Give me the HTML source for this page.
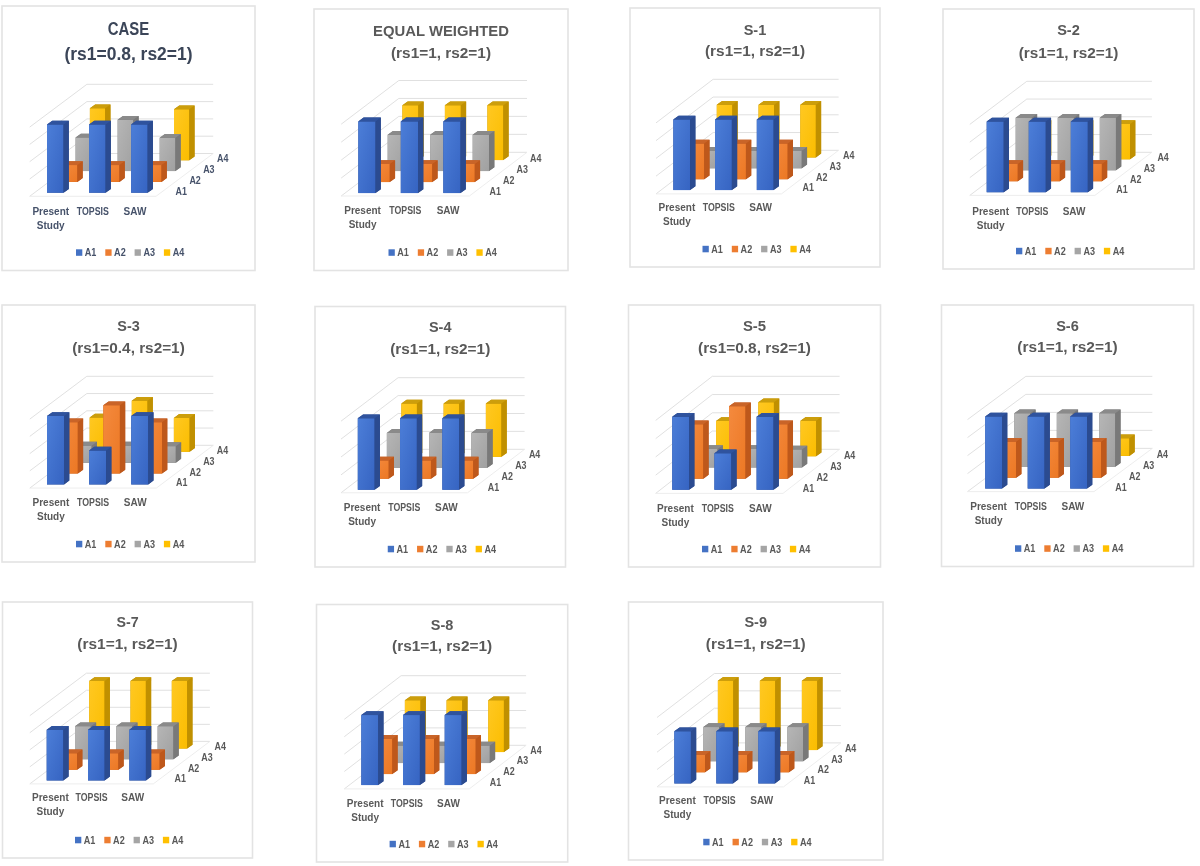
<!DOCTYPE html>
<html><head><meta charset="utf-8"><title>Charts</title>
<style>html,body{margin:0;padding:0;background:#fff;} svg{display:block;font-family:"Liberation Sans",sans-serif;filter:blur(0.5px);}</style>
</head><body>
<svg width="1200" height="866" viewBox="0 0 1200 866">
<defs>
<linearGradient id="g0" x1="0" y1="0" x2="1" y2="1"><stop offset="0" stop-color="#4c7ed8"/><stop offset="1" stop-color="#3664c2"/></linearGradient>
<linearGradient id="g1" x1="0" y1="0" x2="1" y2="1"><stop offset="0" stop-color="#f48a3e"/><stop offset="1" stop-color="#ec7824"/></linearGradient>
<linearGradient id="g2" x1="0" y1="0" x2="1" y2="1"><stop offset="0" stop-color="#b6b6b6"/><stop offset="1" stop-color="#a0a0a0"/></linearGradient>
<linearGradient id="g3" x1="0" y1="0" x2="1" y2="1"><stop offset="0" stop-color="#ffc822"/><stop offset="1" stop-color="#fbbd00"/></linearGradient>
</defs>
<rect width="1200" height="866" fill="#fff"/>
<rect x="2" y="6" width="253" height="264.5" fill="#fff" stroke="#e3e3e3" stroke-width="1.6"/>
<text x="128.5" y="35.3" font-size="17.5" font-weight="bold" fill="#3b4558" text-anchor="middle" textLength="41.5" lengthAdjust="spacingAndGlyphs">CASE</text>
<text x="128.5" y="59.5" font-size="17.5" font-weight="bold" fill="#3b4558" text-anchor="middle" textLength="128" lengthAdjust="spacingAndGlyphs">(rs1=0.8, rs2=1)</text>
<polyline points="29.70,196.30 86.90,153.50 213.20,153.50" fill="none" stroke="#dcdcdc" stroke-width="0.9"/>
<polyline points="29.70,179.00 86.90,136.20 213.20,136.20" fill="none" stroke="#dcdcdc" stroke-width="0.9"/>
<polyline points="29.70,161.70 86.90,118.90 213.20,118.90" fill="none" stroke="#dcdcdc" stroke-width="0.9"/>
<polyline points="29.70,144.40 86.90,101.60 213.20,101.60" fill="none" stroke="#dcdcdc" stroke-width="0.9"/>
<polyline points="29.70,127.10 86.90,84.30 213.20,84.30" fill="none" stroke="#dcdcdc" stroke-width="0.9"/>
<polyline points="29.70,196.30 156.00,196.30 213.20,153.50" fill="none" stroke="#ebebeb" stroke-width="0.9"/>
<polygon points="89.90,108.30 95.20,104.50 110.46,104.50 110.46,156.50 105.16,160.30 89.90,160.30" fill="#c09000"/>
<rect x="89.90" y="108.30" width="15.26" height="52.00" fill="url(#g3)"/>
<polygon points="105.16,108.30 110.46,104.50 110.46,156.50 105.16,160.30" fill="#c09000"/>
<polygon points="89.90,108.30 95.20,104.50 110.46,104.50 105.16,108.30" fill="#cc9e0c"/>
<polygon points="174.00,109.30 179.30,105.50 194.56,105.50 194.56,156.50 189.26,160.30 174.00,160.30" fill="#c09000"/>
<rect x="174.00" y="109.30" width="15.26" height="51.00" fill="url(#g3)"/>
<polygon points="189.26,109.30 194.56,105.50 194.56,156.50 189.26,160.30" fill="#c09000"/>
<polygon points="174.00,109.30 179.30,105.50 194.56,105.50 189.26,109.30" fill="#cc9e0c"/>
<polygon points="75.60,137.50 80.90,133.70 96.57,133.70 96.57,167.30 91.27,171.10 75.60,171.10" fill="#797979"/>
<rect x="75.60" y="137.50" width="15.67" height="33.60" fill="url(#g2)"/>
<polygon points="91.27,137.50 96.57,133.70 96.57,167.30 91.27,171.10" fill="#797979"/>
<polygon points="75.60,137.50 80.90,133.70 96.57,133.70 91.27,137.50" fill="#8a8a8a"/>
<polygon points="117.65,119.80 122.95,116.00 138.63,116.00 138.63,167.30 133.33,171.10 117.65,171.10" fill="#797979"/>
<rect x="117.65" y="119.80" width="15.67" height="51.30" fill="url(#g2)"/>
<polygon points="133.33,119.80 138.63,116.00 138.63,167.30 133.33,171.10" fill="#797979"/>
<polygon points="117.65,119.80 122.95,116.00 138.63,116.00 133.33,119.80" fill="#8a8a8a"/>
<polygon points="159.70,137.80 165.00,134.00 180.68,134.00 180.68,167.30 175.38,171.10 159.70,171.10" fill="#797979"/>
<rect x="159.70" y="137.80" width="15.67" height="33.30" fill="url(#g2)"/>
<polygon points="175.38,137.80 180.68,134.00 180.68,167.30 175.38,171.10" fill="#797979"/>
<polygon points="159.70,137.80 165.00,134.00 180.68,134.00 175.38,137.80" fill="#8a8a8a"/>
<polygon points="61.30,165.10 66.60,161.30 82.69,161.30 82.69,178.10 77.39,181.90 61.30,181.90" fill="#be581b"/>
<rect x="61.30" y="165.10" width="16.09" height="16.80" fill="url(#g1)"/>
<polygon points="77.39,165.10 82.69,161.30 82.69,178.10 77.39,181.90" fill="#be581b"/>
<polygon points="61.30,165.10 66.60,161.30 82.69,161.30 77.39,165.10" fill="#c96428"/>
<polygon points="103.35,165.10 108.65,161.30 124.74,161.30 124.74,178.10 119.44,181.90 103.35,181.90" fill="#be581b"/>
<rect x="103.35" y="165.10" width="16.09" height="16.80" fill="url(#g1)"/>
<polygon points="119.44,165.10 124.74,161.30 124.74,178.10 119.44,181.90" fill="#be581b"/>
<polygon points="103.35,165.10 108.65,161.30 124.74,161.30 119.44,165.10" fill="#c96428"/>
<polygon points="145.40,165.10 150.70,161.30 166.79,161.30 166.79,178.10 161.49,181.90 145.40,181.90" fill="#be581b"/>
<rect x="145.40" y="165.10" width="16.09" height="16.80" fill="url(#g1)"/>
<polygon points="161.49,165.10 166.79,161.30 166.79,178.10 161.49,181.90" fill="#be581b"/>
<polygon points="145.40,165.10 150.70,161.30 166.79,161.30 161.49,165.10" fill="#c96428"/>
<polygon points="47.00,124.50 52.30,120.70 68.80,120.70 68.80,188.90 63.50,192.70 47.00,192.70" fill="#2b4b90"/>
<rect x="47.00" y="124.50" width="16.50" height="68.20" fill="url(#g0)"/>
<polygon points="63.50,124.50 68.80,120.70 68.80,188.90 63.50,192.70" fill="#2b4b90"/>
<polygon points="47.00,124.50 52.30,120.70 68.80,120.70 63.50,124.50" fill="#2f539e"/>
<polygon points="89.05,124.50 94.35,120.70 110.85,120.70 110.85,188.90 105.55,192.70 89.05,192.70" fill="#2b4b90"/>
<rect x="89.05" y="124.50" width="16.50" height="68.20" fill="url(#g0)"/>
<polygon points="105.55,124.50 110.85,120.70 110.85,188.90 105.55,192.70" fill="#2b4b90"/>
<polygon points="89.05,124.50 94.35,120.70 110.85,120.70 105.55,124.50" fill="#2f539e"/>
<polygon points="131.10,124.50 136.40,120.70 152.90,120.70 152.90,188.90 147.60,192.70 131.10,192.70" fill="#2b4b90"/>
<rect x="131.10" y="124.50" width="16.50" height="68.20" fill="url(#g0)"/>
<polygon points="147.60,124.50 152.90,120.70 152.90,188.90 147.60,192.70" fill="#2b4b90"/>
<polygon points="131.10,124.50 136.40,120.70 152.90,120.70 147.60,124.50" fill="#2f539e"/>
<text x="50.75" y="214.50" font-size="10" font-weight="bold" fill="#46526a" text-anchor="middle">Present</text>
<text x="50.75" y="228.50" font-size="10" font-weight="bold" fill="#46526a" text-anchor="middle">Study</text>
<text x="92.85" y="214.50" font-size="10" font-weight="bold" fill="#46526a" text-anchor="middle" textLength="32" lengthAdjust="spacingAndGlyphs">TOPSIS</text>
<text x="134.95" y="214.50" font-size="10" font-weight="bold" fill="#46526a" text-anchor="middle">SAW</text>
<text x="175.60" y="195.40" font-size="10.3" font-weight="bold" fill="#46526a" textLength="11.4" lengthAdjust="spacingAndGlyphs">A1</text>
<text x="189.40" y="184.20" font-size="10.3" font-weight="bold" fill="#46526a" textLength="11.4" lengthAdjust="spacingAndGlyphs">A2</text>
<text x="203.20" y="173.00" font-size="10.3" font-weight="bold" fill="#46526a" textLength="11.4" lengthAdjust="spacingAndGlyphs">A3</text>
<text x="217.00" y="161.80" font-size="10.3" font-weight="bold" fill="#46526a" textLength="11.4" lengthAdjust="spacingAndGlyphs">A4</text>
<rect x="76.00" y="249.30" width="6.3" height="6.5" fill="#4472c4"/>
<text x="84.80" y="256.10" font-size="10.3" font-weight="bold" fill="#46526a" textLength="11.6" lengthAdjust="spacingAndGlyphs">A1</text>
<rect x="105.30" y="249.30" width="6.3" height="6.5" fill="#ed7d31"/>
<text x="114.10" y="256.10" font-size="10.3" font-weight="bold" fill="#46526a" textLength="11.6" lengthAdjust="spacingAndGlyphs">A2</text>
<rect x="134.60" y="249.30" width="6.3" height="6.5" fill="#a5a5a5"/>
<text x="143.40" y="256.10" font-size="10.3" font-weight="bold" fill="#46526a" textLength="11.6" lengthAdjust="spacingAndGlyphs">A3</text>
<rect x="163.90" y="249.30" width="6.3" height="6.5" fill="#ffc000"/>
<text x="172.70" y="256.10" font-size="10.3" font-weight="bold" fill="#46526a" textLength="11.6" lengthAdjust="spacingAndGlyphs">A4</text>
<rect x="314" y="9" width="254" height="261.5" fill="#fff" stroke="#e3e3e3" stroke-width="1.6"/>
<text x="441.0" y="35.8" font-size="15.5" font-weight="bold" fill="#595959" text-anchor="middle" textLength="135.8" lengthAdjust="spacingAndGlyphs">EQUAL WEIGHTED</text>
<text x="441.0" y="58.3" font-size="15.5" font-weight="bold" fill="#595959" text-anchor="middle" textLength="100" lengthAdjust="spacingAndGlyphs">(rs1=1, rs2=1)</text>
<polyline points="341.20,196.00 398.80,152.30 527.00,152.30" fill="none" stroke="#dcdcdc" stroke-width="0.9"/>
<polyline points="341.20,178.05 398.80,134.35 527.00,134.35" fill="none" stroke="#dcdcdc" stroke-width="0.9"/>
<polyline points="341.20,160.10 398.80,116.40 527.00,116.40" fill="none" stroke="#dcdcdc" stroke-width="0.9"/>
<polyline points="341.20,142.15 398.80,98.45 527.00,98.45" fill="none" stroke="#dcdcdc" stroke-width="0.9"/>
<polyline points="341.20,124.20 398.80,80.50 527.00,80.50" fill="none" stroke="#dcdcdc" stroke-width="0.9"/>
<polyline points="341.20,196.00 469.40,196.00 527.00,152.30" fill="none" stroke="#ebebeb" stroke-width="0.9"/>
<polygon points="402.40,105.30 407.70,101.50 423.61,101.50 423.61,156.30 418.31,160.10 402.40,160.10" fill="#c09000"/>
<rect x="402.40" y="105.30" width="15.91" height="54.80" fill="url(#g3)"/>
<polygon points="418.31,105.30 423.61,101.50 423.61,156.30 418.31,160.10" fill="#c09000"/>
<polygon points="402.40,105.30 407.70,101.50 423.61,101.50 418.31,105.30" fill="#cc9e0c"/>
<polygon points="444.90,105.30 450.20,101.50 466.11,101.50 466.11,156.30 460.81,160.10 444.90,160.10" fill="#c09000"/>
<rect x="444.90" y="105.30" width="15.91" height="54.80" fill="url(#g3)"/>
<polygon points="460.81,105.30 466.11,101.50 466.11,156.30 460.81,160.10" fill="#c09000"/>
<polygon points="444.90,105.30 450.20,101.50 466.11,101.50 460.81,105.30" fill="#cc9e0c"/>
<polygon points="487.40,105.30 492.70,101.50 508.61,101.50 508.61,156.30 503.31,160.10 487.40,160.10" fill="#c09000"/>
<rect x="487.40" y="105.30" width="15.91" height="54.80" fill="url(#g3)"/>
<polygon points="503.31,105.30 508.61,101.50 508.61,156.30 503.31,160.10" fill="#c09000"/>
<polygon points="487.40,105.30 492.70,101.50 508.61,101.50 503.31,105.30" fill="#cc9e0c"/>
<polygon points="387.70,134.80 393.00,131.00 409.34,131.00 409.34,167.30 404.04,171.10 387.70,171.10" fill="#797979"/>
<rect x="387.70" y="134.80" width="16.34" height="36.30" fill="url(#g2)"/>
<polygon points="404.04,134.80 409.34,131.00 409.34,167.30 404.04,171.10" fill="#797979"/>
<polygon points="387.70,134.80 393.00,131.00 409.34,131.00 404.04,134.80" fill="#8a8a8a"/>
<polygon points="430.20,134.80 435.50,131.00 451.84,131.00 451.84,167.30 446.54,171.10 430.20,171.10" fill="#797979"/>
<rect x="430.20" y="134.80" width="16.34" height="36.30" fill="url(#g2)"/>
<polygon points="446.54,134.80 451.84,131.00 451.84,167.30 446.54,171.10" fill="#797979"/>
<polygon points="430.20,134.80 435.50,131.00 451.84,131.00 446.54,134.80" fill="#8a8a8a"/>
<polygon points="472.70,134.80 478.00,131.00 494.34,131.00 494.34,167.30 489.04,171.10 472.70,171.10" fill="#797979"/>
<rect x="472.70" y="134.80" width="16.34" height="36.30" fill="url(#g2)"/>
<polygon points="489.04,134.80 494.34,131.00 494.34,167.30 489.04,171.10" fill="#797979"/>
<polygon points="472.70,134.80 478.00,131.00 494.34,131.00 489.04,134.80" fill="#8a8a8a"/>
<polygon points="373.00,164.00 378.30,160.20 395.07,160.20 395.07,178.30 389.77,182.10 373.00,182.10" fill="#be581b"/>
<rect x="373.00" y="164.00" width="16.77" height="18.10" fill="url(#g1)"/>
<polygon points="389.77,164.00 395.07,160.20 395.07,178.30 389.77,182.10" fill="#be581b"/>
<polygon points="373.00,164.00 378.30,160.20 395.07,160.20 389.77,164.00" fill="#c96428"/>
<polygon points="415.50,164.00 420.80,160.20 437.57,160.20 437.57,178.30 432.27,182.10 415.50,182.10" fill="#be581b"/>
<rect x="415.50" y="164.00" width="16.77" height="18.10" fill="url(#g1)"/>
<polygon points="432.27,164.00 437.57,160.20 437.57,178.30 432.27,182.10" fill="#be581b"/>
<polygon points="415.50,164.00 420.80,160.20 437.57,160.20 432.27,164.00" fill="#c96428"/>
<polygon points="458.00,164.00 463.30,160.20 480.07,160.20 480.07,178.30 474.77,182.10 458.00,182.10" fill="#be581b"/>
<rect x="458.00" y="164.00" width="16.77" height="18.10" fill="url(#g1)"/>
<polygon points="474.77,164.00 480.07,160.20 480.07,178.30 474.77,182.10" fill="#be581b"/>
<polygon points="458.00,164.00 463.30,160.20 480.07,160.20 474.77,164.00" fill="#c96428"/>
<polygon points="358.30,121.40 363.60,117.60 380.80,117.60 380.80,189.30 375.50,193.10 358.30,193.10" fill="#2b4b90"/>
<rect x="358.30" y="121.40" width="17.20" height="71.70" fill="url(#g0)"/>
<polygon points="375.50,121.40 380.80,117.60 380.80,189.30 375.50,193.10" fill="#2b4b90"/>
<polygon points="358.30,121.40 363.60,117.60 380.80,117.60 375.50,121.40" fill="#2f539e"/>
<polygon points="400.80,121.40 406.10,117.60 423.30,117.60 423.30,189.30 418.00,193.10 400.80,193.10" fill="#2b4b90"/>
<rect x="400.80" y="121.40" width="17.20" height="71.70" fill="url(#g0)"/>
<polygon points="418.00,121.40 423.30,117.60 423.30,189.30 418.00,193.10" fill="#2b4b90"/>
<polygon points="400.80,121.40 406.10,117.60 423.30,117.60 418.00,121.40" fill="#2f539e"/>
<polygon points="443.30,121.40 448.60,117.60 465.80,117.60 465.80,189.30 460.50,193.10 443.30,193.10" fill="#2b4b90"/>
<rect x="443.30" y="121.40" width="17.20" height="71.70" fill="url(#g0)"/>
<polygon points="460.50,121.40 465.80,117.60 465.80,189.30 460.50,193.10" fill="#2b4b90"/>
<polygon points="443.30,121.40 448.60,117.60 465.80,117.60 460.50,121.40" fill="#2f539e"/>
<text x="362.57" y="214.30" font-size="10" font-weight="bold" fill="#595959" text-anchor="middle">Present</text>
<text x="362.57" y="228.30" font-size="10" font-weight="bold" fill="#595959" text-anchor="middle">Study</text>
<text x="405.30" y="214.30" font-size="10" font-weight="bold" fill="#595959" text-anchor="middle" textLength="32" lengthAdjust="spacingAndGlyphs">TOPSIS</text>
<text x="448.03" y="214.30" font-size="10" font-weight="bold" fill="#595959" text-anchor="middle">SAW</text>
<text x="489.50" y="195.40" font-size="10.3" font-weight="bold" fill="#595959" textLength="11.4" lengthAdjust="spacingAndGlyphs">A1</text>
<text x="503.00" y="184.20" font-size="10.3" font-weight="bold" fill="#595959" textLength="11.4" lengthAdjust="spacingAndGlyphs">A2</text>
<text x="516.50" y="173.00" font-size="10.3" font-weight="bold" fill="#595959" textLength="11.4" lengthAdjust="spacingAndGlyphs">A3</text>
<text x="530.00" y="161.80" font-size="10.3" font-weight="bold" fill="#595959" textLength="11.4" lengthAdjust="spacingAndGlyphs">A4</text>
<rect x="388.50" y="249.30" width="6.3" height="6.5" fill="#4472c4"/>
<text x="397.30" y="256.10" font-size="10.3" font-weight="bold" fill="#595959" textLength="11.6" lengthAdjust="spacingAndGlyphs">A1</text>
<rect x="417.80" y="249.30" width="6.3" height="6.5" fill="#ed7d31"/>
<text x="426.60" y="256.10" font-size="10.3" font-weight="bold" fill="#595959" textLength="11.6" lengthAdjust="spacingAndGlyphs">A2</text>
<rect x="447.10" y="249.30" width="6.3" height="6.5" fill="#a5a5a5"/>
<text x="455.90" y="256.10" font-size="10.3" font-weight="bold" fill="#595959" textLength="11.6" lengthAdjust="spacingAndGlyphs">A3</text>
<rect x="476.40" y="249.30" width="6.3" height="6.5" fill="#ffc000"/>
<text x="485.20" y="256.10" font-size="10.3" font-weight="bold" fill="#595959" textLength="11.6" lengthAdjust="spacingAndGlyphs">A4</text>
<rect x="630" y="8" width="250" height="259" fill="#fff" stroke="#e3e3e3" stroke-width="1.6"/>
<text x="755.0" y="34.5" font-size="15" font-weight="bold" fill="#595959" text-anchor="middle" textLength="22.6" lengthAdjust="spacingAndGlyphs">S-1</text>
<text x="755.0" y="56.2" font-size="15" font-weight="bold" fill="#595959" text-anchor="middle" textLength="100" lengthAdjust="spacingAndGlyphs">(rs1=1, rs2=1)</text>
<polyline points="656.00,193.90 713.10,150.30 838.60,150.30" fill="none" stroke="#dcdcdc" stroke-width="0.9"/>
<polyline points="656.00,176.15 713.10,132.55 838.60,132.55" fill="none" stroke="#dcdcdc" stroke-width="0.9"/>
<polyline points="656.00,158.40 713.10,114.80 838.60,114.80" fill="none" stroke="#dcdcdc" stroke-width="0.9"/>
<polyline points="656.00,140.65 713.10,97.05 838.60,97.05" fill="none" stroke="#dcdcdc" stroke-width="0.9"/>
<polyline points="656.00,122.90 713.10,79.30 838.60,79.30" fill="none" stroke="#dcdcdc" stroke-width="0.9"/>
<polyline points="656.00,193.90 781.50,193.90 838.60,150.30" fill="none" stroke="#ebebeb" stroke-width="0.9"/>
<polygon points="716.80,104.80 722.10,101.00 737.64,101.00 737.64,153.60 732.34,157.40 716.80,157.40" fill="#c09000"/>
<rect x="716.80" y="104.80" width="15.54" height="52.60" fill="url(#g3)"/>
<polygon points="732.34,104.80 737.64,101.00 737.64,153.60 732.34,157.40" fill="#c09000"/>
<polygon points="716.80,104.80 722.10,101.00 737.64,101.00 732.34,104.80" fill="#cc9e0c"/>
<polygon points="758.55,104.80 763.85,101.00 779.39,101.00 779.39,153.60 774.09,157.40 758.55,157.40" fill="#c09000"/>
<rect x="758.55" y="104.80" width="15.54" height="52.60" fill="url(#g3)"/>
<polygon points="774.09,104.80 779.39,101.00 779.39,153.60 774.09,157.40" fill="#c09000"/>
<polygon points="758.55,104.80 763.85,101.00 779.39,101.00 774.09,104.80" fill="#cc9e0c"/>
<polygon points="800.30,104.80 805.60,101.00 821.14,101.00 821.14,153.60 815.84,157.40 800.30,157.40" fill="#c09000"/>
<rect x="800.30" y="104.80" width="15.54" height="52.60" fill="url(#g3)"/>
<polygon points="815.84,104.80 821.14,101.00 821.14,153.60 815.84,157.40" fill="#c09000"/>
<polygon points="800.30,104.80 805.60,101.00 821.14,101.00 815.84,104.80" fill="#cc9e0c"/>
<polygon points="702.30,150.70 707.60,146.90 723.56,146.90 723.56,164.50 718.26,168.30 702.30,168.30" fill="#797979"/>
<rect x="702.30" y="150.70" width="15.96" height="17.60" fill="url(#g2)"/>
<polygon points="718.26,150.70 723.56,146.90 723.56,164.50 718.26,168.30" fill="#797979"/>
<polygon points="702.30,150.70 707.60,146.90 723.56,146.90 718.26,150.70" fill="#8a8a8a"/>
<polygon points="744.05,150.70 749.35,146.90 765.31,146.90 765.31,164.50 760.01,168.30 744.05,168.30" fill="#797979"/>
<rect x="744.05" y="150.70" width="15.96" height="17.60" fill="url(#g2)"/>
<polygon points="760.01,150.70 765.31,146.90 765.31,164.50 760.01,168.30" fill="#797979"/>
<polygon points="744.05,150.70 749.35,146.90 765.31,146.90 760.01,150.70" fill="#8a8a8a"/>
<polygon points="785.80,150.70 791.10,146.90 807.06,146.90 807.06,164.50 801.76,168.30 785.80,168.30" fill="#797979"/>
<rect x="785.80" y="150.70" width="15.96" height="17.60" fill="url(#g2)"/>
<polygon points="801.76,150.70 807.06,146.90 807.06,164.50 801.76,168.30" fill="#797979"/>
<polygon points="785.80,150.70 791.10,146.90 807.06,146.90 801.76,150.70" fill="#8a8a8a"/>
<polygon points="687.80,143.60 693.10,139.80 709.48,139.80 709.48,175.40 704.18,179.20 687.80,179.20" fill="#be581b"/>
<rect x="687.80" y="143.60" width="16.38" height="35.60" fill="url(#g1)"/>
<polygon points="704.18,143.60 709.48,139.80 709.48,175.40 704.18,179.20" fill="#be581b"/>
<polygon points="687.80,143.60 693.10,139.80 709.48,139.80 704.18,143.60" fill="#c96428"/>
<polygon points="729.55,143.60 734.85,139.80 751.23,139.80 751.23,175.40 745.93,179.20 729.55,179.20" fill="#be581b"/>
<rect x="729.55" y="143.60" width="16.38" height="35.60" fill="url(#g1)"/>
<polygon points="745.93,143.60 751.23,139.80 751.23,175.40 745.93,179.20" fill="#be581b"/>
<polygon points="729.55,143.60 734.85,139.80 751.23,139.80 745.93,143.60" fill="#c96428"/>
<polygon points="771.30,143.60 776.60,139.80 792.98,139.80 792.98,175.40 787.68,179.20 771.30,179.20" fill="#be581b"/>
<rect x="771.30" y="143.60" width="16.38" height="35.60" fill="url(#g1)"/>
<polygon points="787.68,143.60 792.98,139.80 792.98,175.40 787.68,179.20" fill="#be581b"/>
<polygon points="771.30,143.60 776.60,139.80 792.98,139.80 787.68,143.60" fill="#c96428"/>
<polygon points="673.30,119.50 678.60,115.70 695.40,115.70 695.40,186.30 690.10,190.10 673.30,190.10" fill="#2b4b90"/>
<rect x="673.30" y="119.50" width="16.80" height="70.60" fill="url(#g0)"/>
<polygon points="690.10,119.50 695.40,115.70 695.40,186.30 690.10,190.10" fill="#2b4b90"/>
<polygon points="673.30,119.50 678.60,115.70 695.40,115.70 690.10,119.50" fill="#2f539e"/>
<polygon points="715.05,119.50 720.35,115.70 737.15,115.70 737.15,186.30 731.85,190.10 715.05,190.10" fill="#2b4b90"/>
<rect x="715.05" y="119.50" width="16.80" height="70.60" fill="url(#g0)"/>
<polygon points="731.85,119.50 737.15,115.70 737.15,186.30 731.85,190.10" fill="#2b4b90"/>
<polygon points="715.05,119.50 720.35,115.70 737.15,115.70 731.85,119.50" fill="#2f539e"/>
<polygon points="756.80,119.50 762.10,115.70 778.90,115.70 778.90,186.30 773.60,190.10 756.80,190.10" fill="#2b4b90"/>
<rect x="756.80" y="119.50" width="16.80" height="70.60" fill="url(#g0)"/>
<polygon points="773.60,119.50 778.90,115.70 778.90,186.30 773.60,190.10" fill="#2b4b90"/>
<polygon points="756.80,119.50 762.10,115.70 778.90,115.70 773.60,119.50" fill="#2f539e"/>
<text x="676.92" y="210.50" font-size="10" font-weight="bold" fill="#595959" text-anchor="middle">Present</text>
<text x="676.92" y="224.50" font-size="10" font-weight="bold" fill="#595959" text-anchor="middle">Study</text>
<text x="718.75" y="210.50" font-size="10" font-weight="bold" fill="#595959" text-anchor="middle" textLength="32" lengthAdjust="spacingAndGlyphs">TOPSIS</text>
<text x="760.58" y="210.50" font-size="10" font-weight="bold" fill="#595959" text-anchor="middle">SAW</text>
<text x="802.50" y="191.30" font-size="10.3" font-weight="bold" fill="#595959" textLength="11.4" lengthAdjust="spacingAndGlyphs">A1</text>
<text x="816.00" y="180.60" font-size="10.3" font-weight="bold" fill="#595959" textLength="11.4" lengthAdjust="spacingAndGlyphs">A2</text>
<text x="829.50" y="169.90" font-size="10.3" font-weight="bold" fill="#595959" textLength="11.4" lengthAdjust="spacingAndGlyphs">A3</text>
<text x="843.00" y="159.20" font-size="10.3" font-weight="bold" fill="#595959" textLength="11.4" lengthAdjust="spacingAndGlyphs">A4</text>
<rect x="702.50" y="245.80" width="6.3" height="6.5" fill="#4472c4"/>
<text x="711.30" y="252.60" font-size="10.3" font-weight="bold" fill="#595959" textLength="11.6" lengthAdjust="spacingAndGlyphs">A1</text>
<rect x="731.80" y="245.80" width="6.3" height="6.5" fill="#ed7d31"/>
<text x="740.60" y="252.60" font-size="10.3" font-weight="bold" fill="#595959" textLength="11.6" lengthAdjust="spacingAndGlyphs">A2</text>
<rect x="761.10" y="245.80" width="6.3" height="6.5" fill="#a5a5a5"/>
<text x="769.90" y="252.60" font-size="10.3" font-weight="bold" fill="#595959" textLength="11.6" lengthAdjust="spacingAndGlyphs">A3</text>
<rect x="790.40" y="245.80" width="6.3" height="6.5" fill="#ffc000"/>
<text x="799.20" y="252.60" font-size="10.3" font-weight="bold" fill="#595959" textLength="11.6" lengthAdjust="spacingAndGlyphs">A4</text>
<rect x="943" y="9" width="251" height="260" fill="#fff" stroke="#e3e3e3" stroke-width="1.6"/>
<text x="1068.5" y="35.3" font-size="15" font-weight="bold" fill="#595959" text-anchor="middle" textLength="22.7" lengthAdjust="spacingAndGlyphs">S-2</text>
<text x="1068.5" y="57.5" font-size="15" font-weight="bold" fill="#595959" text-anchor="middle" textLength="99.6" lengthAdjust="spacingAndGlyphs">(rs1=1, rs2=1)</text>
<polyline points="969.80,195.40 1026.80,152.30 1151.90,152.30" fill="none" stroke="#dcdcdc" stroke-width="0.9"/>
<polyline points="969.80,177.65 1026.80,134.55 1151.90,134.55" fill="none" stroke="#dcdcdc" stroke-width="0.9"/>
<polyline points="969.80,159.90 1026.80,116.80 1151.90,116.80" fill="none" stroke="#dcdcdc" stroke-width="0.9"/>
<polyline points="969.80,142.15 1026.80,99.05 1151.90,99.05" fill="none" stroke="#dcdcdc" stroke-width="0.9"/>
<polyline points="969.80,124.40 1026.80,81.30 1151.90,81.30" fill="none" stroke="#dcdcdc" stroke-width="0.9"/>
<polyline points="969.80,195.40 1094.90,195.40 1151.90,152.30" fill="none" stroke="#ebebeb" stroke-width="0.9"/>
<polygon points="1030.20,123.95 1035.50,120.15 1051.22,120.15 1051.22,155.55 1045.92,159.35 1030.20,159.35" fill="#c09000"/>
<rect x="1030.20" y="123.95" width="15.73" height="35.40" fill="url(#g3)"/>
<polygon points="1045.92,123.95 1051.22,120.15 1051.22,155.55 1045.92,159.35" fill="#c09000"/>
<polygon points="1030.20,123.95 1035.50,120.15 1051.22,120.15 1045.92,123.95" fill="#cc9e0c"/>
<polygon points="1072.25,123.95 1077.55,120.15 1093.27,120.15 1093.27,155.55 1087.97,159.35 1072.25,159.35" fill="#c09000"/>
<rect x="1072.25" y="123.95" width="15.73" height="35.40" fill="url(#g3)"/>
<polygon points="1087.97,123.95 1093.27,120.15 1093.27,155.55 1087.97,159.35" fill="#c09000"/>
<polygon points="1072.25,123.95 1077.55,120.15 1093.27,120.15 1087.97,123.95" fill="#cc9e0c"/>
<polygon points="1114.30,123.95 1119.60,120.15 1135.32,120.15 1135.32,155.55 1130.02,159.35 1114.30,159.35" fill="#c09000"/>
<rect x="1114.30" y="123.95" width="15.73" height="35.40" fill="url(#g3)"/>
<polygon points="1130.02,123.95 1135.32,120.15 1135.32,155.55 1130.02,159.35" fill="#c09000"/>
<polygon points="1114.30,123.95 1119.60,120.15 1135.32,120.15 1130.02,123.95" fill="#cc9e0c"/>
<polygon points="1015.70,117.70 1021.00,113.90 1037.15,113.90 1037.15,166.50 1031.85,170.30 1015.70,170.30" fill="#797979"/>
<rect x="1015.70" y="117.70" width="16.15" height="52.60" fill="url(#g2)"/>
<polygon points="1031.85,117.70 1037.15,113.90 1037.15,166.50 1031.85,170.30" fill="#797979"/>
<polygon points="1015.70,117.70 1021.00,113.90 1037.15,113.90 1031.85,117.70" fill="#8a8a8a"/>
<polygon points="1057.75,117.70 1063.05,113.90 1079.20,113.90 1079.20,166.50 1073.90,170.30 1057.75,170.30" fill="#797979"/>
<rect x="1057.75" y="117.70" width="16.15" height="52.60" fill="url(#g2)"/>
<polygon points="1073.90,117.70 1079.20,113.90 1079.20,166.50 1073.90,170.30" fill="#797979"/>
<polygon points="1057.75,117.70 1063.05,113.90 1079.20,113.90 1073.90,117.70" fill="#8a8a8a"/>
<polygon points="1099.80,117.70 1105.10,113.90 1121.25,113.90 1121.25,166.50 1115.95,170.30 1099.80,170.30" fill="#797979"/>
<rect x="1099.80" y="117.70" width="16.15" height="52.60" fill="url(#g2)"/>
<polygon points="1115.95,117.70 1121.25,113.90 1121.25,166.50 1115.95,170.30" fill="#797979"/>
<polygon points="1099.80,117.70 1105.10,113.90 1121.25,113.90 1115.95,117.70" fill="#8a8a8a"/>
<polygon points="1001.20,163.95 1006.50,160.15 1023.08,160.15 1023.08,177.45 1017.78,181.25 1001.20,181.25" fill="#be581b"/>
<rect x="1001.20" y="163.95" width="16.57" height="17.30" fill="url(#g1)"/>
<polygon points="1017.78,163.95 1023.08,160.15 1023.08,177.45 1017.78,181.25" fill="#be581b"/>
<polygon points="1001.20,163.95 1006.50,160.15 1023.08,160.15 1017.78,163.95" fill="#c96428"/>
<polygon points="1043.25,163.95 1048.55,160.15 1065.12,160.15 1065.12,177.45 1059.83,181.25 1043.25,181.25" fill="#be581b"/>
<rect x="1043.25" y="163.95" width="16.57" height="17.30" fill="url(#g1)"/>
<polygon points="1059.83,163.95 1065.12,160.15 1065.12,177.45 1059.83,181.25" fill="#be581b"/>
<polygon points="1043.25,163.95 1048.55,160.15 1065.12,160.15 1059.83,163.95" fill="#c96428"/>
<polygon points="1085.30,163.95 1090.60,160.15 1107.17,160.15 1107.17,177.45 1101.88,181.25 1085.30,181.25" fill="#be581b"/>
<rect x="1085.30" y="163.95" width="16.57" height="17.30" fill="url(#g1)"/>
<polygon points="1101.88,163.95 1107.17,160.15 1107.17,177.45 1101.88,181.25" fill="#be581b"/>
<polygon points="1085.30,163.95 1090.60,160.15 1107.17,160.15 1101.88,163.95" fill="#c96428"/>
<polygon points="986.70,121.60 992.00,117.80 1009.00,117.80 1009.00,188.40 1003.70,192.20 986.70,192.20" fill="#2b4b90"/>
<rect x="986.70" y="121.60" width="17.00" height="70.60" fill="url(#g0)"/>
<polygon points="1003.70,121.60 1009.00,117.80 1009.00,188.40 1003.70,192.20" fill="#2b4b90"/>
<polygon points="986.70,121.60 992.00,117.80 1009.00,117.80 1003.70,121.60" fill="#2f539e"/>
<polygon points="1028.75,121.60 1034.05,117.80 1051.05,117.80 1051.05,188.40 1045.75,192.20 1028.75,192.20" fill="#2b4b90"/>
<rect x="1028.75" y="121.60" width="17.00" height="70.60" fill="url(#g0)"/>
<polygon points="1045.75,121.60 1051.05,117.80 1051.05,188.40 1045.75,192.20" fill="#2b4b90"/>
<polygon points="1028.75,121.60 1034.05,117.80 1051.05,117.80 1045.75,121.60" fill="#2f539e"/>
<polygon points="1070.80,121.60 1076.10,117.80 1093.10,117.80 1093.10,188.40 1087.80,192.20 1070.80,192.20" fill="#2b4b90"/>
<rect x="1070.80" y="121.60" width="17.00" height="70.60" fill="url(#g0)"/>
<polygon points="1087.80,121.60 1093.10,117.80 1093.10,188.40 1087.80,192.20" fill="#2b4b90"/>
<polygon points="1070.80,121.60 1076.10,117.80 1093.10,117.80 1087.80,121.60" fill="#2f539e"/>
<text x="990.65" y="214.50" font-size="10" font-weight="bold" fill="#595959" text-anchor="middle">Present</text>
<text x="990.65" y="228.50" font-size="10" font-weight="bold" fill="#595959" text-anchor="middle">Study</text>
<text x="1032.35" y="214.50" font-size="10" font-weight="bold" fill="#595959" text-anchor="middle" textLength="32" lengthAdjust="spacingAndGlyphs">TOPSIS</text>
<text x="1074.05" y="214.50" font-size="10" font-weight="bold" fill="#595959" text-anchor="middle">SAW</text>
<text x="1116.30" y="193.40" font-size="10.3" font-weight="bold" fill="#595959" textLength="11.4" lengthAdjust="spacingAndGlyphs">A1</text>
<text x="1130.00" y="182.50" font-size="10.3" font-weight="bold" fill="#595959" textLength="11.4" lengthAdjust="spacingAndGlyphs">A2</text>
<text x="1143.70" y="171.60" font-size="10.3" font-weight="bold" fill="#595959" textLength="11.4" lengthAdjust="spacingAndGlyphs">A3</text>
<text x="1157.40" y="160.70" font-size="10.3" font-weight="bold" fill="#595959" textLength="11.4" lengthAdjust="spacingAndGlyphs">A4</text>
<rect x="1016.00" y="247.80" width="6.3" height="6.5" fill="#4472c4"/>
<text x="1024.80" y="254.60" font-size="10.3" font-weight="bold" fill="#595959" textLength="11.6" lengthAdjust="spacingAndGlyphs">A1</text>
<rect x="1045.30" y="247.80" width="6.3" height="6.5" fill="#ed7d31"/>
<text x="1054.10" y="254.60" font-size="10.3" font-weight="bold" fill="#595959" textLength="11.6" lengthAdjust="spacingAndGlyphs">A2</text>
<rect x="1074.60" y="247.80" width="6.3" height="6.5" fill="#a5a5a5"/>
<text x="1083.40" y="254.60" font-size="10.3" font-weight="bold" fill="#595959" textLength="11.6" lengthAdjust="spacingAndGlyphs">A3</text>
<rect x="1103.90" y="247.80" width="6.3" height="6.5" fill="#ffc000"/>
<text x="1112.70" y="254.60" font-size="10.3" font-weight="bold" fill="#595959" textLength="11.6" lengthAdjust="spacingAndGlyphs">A4</text>
<rect x="2" y="305" width="253" height="257" fill="#fff" stroke="#e3e3e3" stroke-width="1.6"/>
<text x="128.5" y="331.0" font-size="15" font-weight="bold" fill="#595959" text-anchor="middle" textLength="22.5" lengthAdjust="spacingAndGlyphs">S-3</text>
<text x="128.5" y="352.6" font-size="15" font-weight="bold" fill="#595959" text-anchor="middle" textLength="112.5" lengthAdjust="spacingAndGlyphs">(rs1=0.4, rs2=1)</text>
<polyline points="29.80,488.10 86.80,445.30 213.30,445.30" fill="none" stroke="#dcdcdc" stroke-width="0.9"/>
<polyline points="29.80,470.85 86.80,428.05 213.30,428.05" fill="none" stroke="#dcdcdc" stroke-width="0.9"/>
<polyline points="29.80,453.60 86.80,410.80 213.30,410.80" fill="none" stroke="#dcdcdc" stroke-width="0.9"/>
<polyline points="29.80,436.35 86.80,393.55 213.30,393.55" fill="none" stroke="#dcdcdc" stroke-width="0.9"/>
<polyline points="29.80,419.10 86.80,376.30 213.30,376.30" fill="none" stroke="#dcdcdc" stroke-width="0.9"/>
<polyline points="29.80,488.10 156.30,488.10 213.30,445.30" fill="none" stroke="#ebebeb" stroke-width="0.9"/>
<polygon points="89.69,417.59 94.99,413.79 110.71,413.79 110.71,447.99 105.41,451.79 89.69,451.79" fill="#c09000"/>
<rect x="89.69" y="417.59" width="15.73" height="34.20" fill="url(#g3)"/>
<polygon points="105.41,417.59 110.71,413.79 110.71,447.99 105.41,451.79" fill="#c09000"/>
<polygon points="89.69,417.59 94.99,413.79 110.71,413.79 105.41,417.59" fill="#cc9e0c"/>
<polygon points="131.79,400.69 137.09,396.89 152.81,396.89 152.81,447.99 147.51,451.79 131.79,451.79" fill="#c09000"/>
<rect x="131.79" y="400.69" width="15.73" height="51.10" fill="url(#g3)"/>
<polygon points="147.51,400.69 152.81,396.89 152.81,447.99 147.51,451.79" fill="#c09000"/>
<polygon points="131.79,400.69 137.09,396.89 152.81,396.89 147.51,400.69" fill="#cc9e0c"/>
<polygon points="173.89,417.89 179.19,414.09 194.91,414.09 194.91,447.99 189.61,451.79 173.89,451.79" fill="#c09000"/>
<rect x="173.89" y="417.89" width="15.73" height="33.90" fill="url(#g3)"/>
<polygon points="189.61,417.89 194.91,414.09 194.91,447.99 189.61,451.79" fill="#c09000"/>
<polygon points="173.89,417.89 179.19,414.09 194.91,414.09 189.61,417.89" fill="#cc9e0c"/>
<polygon points="75.46,445.66 80.76,441.86 96.91,441.86 96.91,458.86 91.61,462.66 75.46,462.66" fill="#797979"/>
<rect x="75.46" y="445.66" width="16.15" height="17.00" fill="url(#g2)"/>
<polygon points="91.61,445.66 96.91,441.86 96.91,458.86 91.61,462.66" fill="#797979"/>
<polygon points="75.46,445.66 80.76,441.86 96.91,441.86 91.61,445.66" fill="#8a8a8a"/>
<polygon points="117.56,445.66 122.86,441.86 139.01,441.86 139.01,458.86 133.71,462.66 117.56,462.66" fill="#797979"/>
<rect x="117.56" y="445.66" width="16.15" height="17.00" fill="url(#g2)"/>
<polygon points="133.71,445.66 139.01,441.86 139.01,458.86 133.71,462.66" fill="#797979"/>
<polygon points="117.56,445.66 122.86,441.86 139.01,441.86 133.71,445.66" fill="#8a8a8a"/>
<polygon points="159.66,446.16 164.96,442.36 181.11,442.36 181.11,458.86 175.81,462.66 159.66,462.66" fill="#797979"/>
<rect x="159.66" y="446.16" width="16.15" height="16.50" fill="url(#g2)"/>
<polygon points="175.81,446.16 181.11,442.36 181.11,458.86 175.81,462.66" fill="#797979"/>
<polygon points="159.66,446.16 164.96,442.36 181.11,442.36 175.81,446.16" fill="#8a8a8a"/>
<polygon points="61.23,422.23 66.53,418.43 83.11,418.43 83.11,469.73 77.81,473.53 61.23,473.53" fill="#be581b"/>
<rect x="61.23" y="422.23" width="16.57" height="51.30" fill="url(#g1)"/>
<polygon points="77.81,422.23 83.11,418.43 83.11,469.73 77.81,473.53" fill="#be581b"/>
<polygon points="61.23,422.23 66.53,418.43 83.11,418.43 77.81,422.23" fill="#c96428"/>
<polygon points="103.33,405.23 108.63,401.43 125.20,401.43 125.20,469.73 119.91,473.53 103.33,473.53" fill="#be581b"/>
<rect x="103.33" y="405.23" width="16.57" height="68.30" fill="url(#g1)"/>
<polygon points="119.91,405.23 125.20,401.43 125.20,469.73 119.91,473.53" fill="#be581b"/>
<polygon points="103.33,405.23 108.63,401.43 125.20,401.43 119.91,405.23" fill="#c96428"/>
<polygon points="145.43,422.23 150.73,418.43 167.30,418.43 167.30,469.73 162.00,473.53 145.43,473.53" fill="#be581b"/>
<rect x="145.43" y="422.23" width="16.57" height="51.30" fill="url(#g1)"/>
<polygon points="162.00,422.23 167.30,418.43 167.30,469.73 162.00,473.53" fill="#be581b"/>
<polygon points="145.43,422.23 150.73,418.43 167.30,418.43 162.00,422.23" fill="#c96428"/>
<polygon points="47.00,416.00 52.30,412.20 69.30,412.20 69.30,480.60 64.00,484.40 47.00,484.40" fill="#2b4b90"/>
<rect x="47.00" y="416.00" width="17.00" height="68.40" fill="url(#g0)"/>
<polygon points="64.00,416.00 69.30,412.20 69.30,480.60 64.00,484.40" fill="#2b4b90"/>
<polygon points="47.00,416.00 52.30,412.20 69.30,412.20 64.00,416.00" fill="#2f539e"/>
<polygon points="89.10,450.60 94.40,446.80 111.40,446.80 111.40,480.60 106.10,484.40 89.10,484.40" fill="#2b4b90"/>
<rect x="89.10" y="450.60" width="17.00" height="33.80" fill="url(#g0)"/>
<polygon points="106.10,450.60 111.40,446.80 111.40,480.60 106.10,484.40" fill="#2b4b90"/>
<polygon points="89.10,450.60 94.40,446.80 111.40,446.80 106.10,450.60" fill="#2f539e"/>
<polygon points="131.20,416.00 136.50,412.20 153.50,412.20 153.50,480.60 148.20,484.40 131.20,484.40" fill="#2b4b90"/>
<rect x="131.20" y="416.00" width="17.00" height="68.40" fill="url(#g0)"/>
<polygon points="148.20,416.00 153.50,412.20 153.50,480.60 148.20,484.40" fill="#2b4b90"/>
<polygon points="131.20,416.00 136.50,412.20 153.50,412.20 148.20,416.00" fill="#2f539e"/>
<text x="50.88" y="505.50" font-size="10" font-weight="bold" fill="#595959" text-anchor="middle">Present</text>
<text x="50.88" y="519.50" font-size="10" font-weight="bold" fill="#595959" text-anchor="middle">Study</text>
<text x="93.05" y="505.50" font-size="10" font-weight="bold" fill="#595959" text-anchor="middle" textLength="32" lengthAdjust="spacingAndGlyphs">TOPSIS</text>
<text x="135.22" y="505.50" font-size="10" font-weight="bold" fill="#595959" text-anchor="middle">SAW</text>
<text x="176.00" y="486.30" font-size="10.3" font-weight="bold" fill="#595959" textLength="11.4" lengthAdjust="spacingAndGlyphs">A1</text>
<text x="189.60" y="475.50" font-size="10.3" font-weight="bold" fill="#595959" textLength="11.4" lengthAdjust="spacingAndGlyphs">A2</text>
<text x="203.20" y="464.70" font-size="10.3" font-weight="bold" fill="#595959" textLength="11.4" lengthAdjust="spacingAndGlyphs">A3</text>
<text x="216.80" y="453.90" font-size="10.3" font-weight="bold" fill="#595959" textLength="11.4" lengthAdjust="spacingAndGlyphs">A4</text>
<rect x="76.00" y="540.80" width="6.3" height="6.5" fill="#4472c4"/>
<text x="84.80" y="547.60" font-size="10.3" font-weight="bold" fill="#595959" textLength="11.6" lengthAdjust="spacingAndGlyphs">A1</text>
<rect x="105.30" y="540.80" width="6.3" height="6.5" fill="#ed7d31"/>
<text x="114.10" y="547.60" font-size="10.3" font-weight="bold" fill="#595959" textLength="11.6" lengthAdjust="spacingAndGlyphs">A2</text>
<rect x="134.60" y="540.80" width="6.3" height="6.5" fill="#a5a5a5"/>
<text x="143.40" y="547.60" font-size="10.3" font-weight="bold" fill="#595959" textLength="11.6" lengthAdjust="spacingAndGlyphs">A3</text>
<rect x="163.90" y="540.80" width="6.3" height="6.5" fill="#ffc000"/>
<text x="172.70" y="547.60" font-size="10.3" font-weight="bold" fill="#595959" textLength="11.6" lengthAdjust="spacingAndGlyphs">A4</text>
<rect x="315" y="306.5" width="250.5" height="260.5" fill="#fff" stroke="#e3e3e3" stroke-width="1.6"/>
<text x="440.25" y="331.9" font-size="15" font-weight="bold" fill="#595959" text-anchor="middle" textLength="22.6" lengthAdjust="spacingAndGlyphs">S-4</text>
<text x="440.25" y="353.9" font-size="15" font-weight="bold" fill="#595959" text-anchor="middle" textLength="100.1" lengthAdjust="spacingAndGlyphs">(rs1=1, rs2=1)</text>
<polyline points="341.00,492.80 398.10,449.30 524.60,449.30" fill="none" stroke="#dcdcdc" stroke-width="0.9"/>
<polyline points="341.00,474.90 398.10,431.40 524.60,431.40" fill="none" stroke="#dcdcdc" stroke-width="0.9"/>
<polyline points="341.00,457.00 398.10,413.50 524.60,413.50" fill="none" stroke="#dcdcdc" stroke-width="0.9"/>
<polyline points="341.00,439.10 398.10,395.60 524.60,395.60" fill="none" stroke="#dcdcdc" stroke-width="0.9"/>
<polyline points="341.00,421.20 398.10,377.70 524.60,377.70" fill="none" stroke="#dcdcdc" stroke-width="0.9"/>
<polyline points="341.00,492.80 467.50,492.80 524.60,449.30" fill="none" stroke="#ebebeb" stroke-width="0.9"/>
<polygon points="401.39,403.60 406.69,399.80 422.23,399.80 422.23,453.00 416.93,456.80 401.39,456.80" fill="#c09000"/>
<rect x="401.39" y="403.60" width="15.54" height="53.20" fill="url(#g3)"/>
<polygon points="416.93,403.60 422.23,399.80 422.23,453.00 416.93,456.80" fill="#c09000"/>
<polygon points="401.39,403.60 406.69,399.80 422.23,399.80 416.93,403.60" fill="#cc9e0c"/>
<polygon points="443.64,403.60 448.94,399.80 464.48,399.80 464.48,453.00 459.18,456.80 443.64,456.80" fill="#c09000"/>
<rect x="443.64" y="403.60" width="15.54" height="53.20" fill="url(#g3)"/>
<polygon points="459.18,403.60 464.48,399.80 464.48,453.00 459.18,456.80" fill="#c09000"/>
<polygon points="443.64,403.60 448.94,399.80 464.48,399.80 459.18,403.60" fill="#cc9e0c"/>
<polygon points="485.89,403.60 491.19,399.80 506.73,399.80 506.73,453.00 501.43,456.80 485.89,456.80" fill="#c09000"/>
<rect x="485.89" y="403.60" width="15.54" height="53.20" fill="url(#g3)"/>
<polygon points="501.43,403.60 506.73,399.80 506.73,453.00 501.43,456.80" fill="#c09000"/>
<polygon points="485.89,403.60 491.19,399.80 506.73,399.80 501.43,403.60" fill="#cc9e0c"/>
<polygon points="386.86,432.90 392.16,429.10 408.12,429.10 408.12,464.00 402.82,467.80 386.86,467.80" fill="#797979"/>
<rect x="386.86" y="432.90" width="15.96" height="34.90" fill="url(#g2)"/>
<polygon points="402.82,432.90 408.12,429.10 408.12,464.00 402.82,467.80" fill="#797979"/>
<polygon points="386.86,432.90 392.16,429.10 408.12,429.10 402.82,432.90" fill="#8a8a8a"/>
<polygon points="429.11,432.90 434.41,429.10 450.37,429.10 450.37,464.00 445.07,467.80 429.11,467.80" fill="#797979"/>
<rect x="429.11" y="432.90" width="15.96" height="34.90" fill="url(#g2)"/>
<polygon points="445.07,432.90 450.37,429.10 450.37,464.00 445.07,467.80" fill="#797979"/>
<polygon points="429.11,432.90 434.41,429.10 450.37,429.10 445.07,432.90" fill="#8a8a8a"/>
<polygon points="471.36,432.90 476.66,429.10 492.62,429.10 492.62,464.00 487.32,467.80 471.36,467.80" fill="#797979"/>
<rect x="471.36" y="432.90" width="15.96" height="34.90" fill="url(#g2)"/>
<polygon points="487.32,432.90 492.62,429.10 492.62,464.00 487.32,467.80" fill="#797979"/>
<polygon points="471.36,432.90 476.66,429.10 492.62,429.10 487.32,432.90" fill="#8a8a8a"/>
<polygon points="372.33,460.50 377.63,456.70 394.01,456.70 394.01,475.00 388.71,478.80 372.33,478.80" fill="#be581b"/>
<rect x="372.33" y="460.50" width="16.38" height="18.30" fill="url(#g1)"/>
<polygon points="388.71,460.50 394.01,456.70 394.01,475.00 388.71,478.80" fill="#be581b"/>
<polygon points="372.33,460.50 377.63,456.70 394.01,456.70 388.71,460.50" fill="#c96428"/>
<polygon points="414.58,460.50 419.88,456.70 436.26,456.70 436.26,475.00 430.96,478.80 414.58,478.80" fill="#be581b"/>
<rect x="414.58" y="460.50" width="16.38" height="18.30" fill="url(#g1)"/>
<polygon points="430.96,460.50 436.26,456.70 436.26,475.00 430.96,478.80" fill="#be581b"/>
<polygon points="414.58,460.50 419.88,456.70 436.26,456.70 430.96,460.50" fill="#c96428"/>
<polygon points="456.83,460.50 462.13,456.70 478.51,456.70 478.51,475.00 473.21,478.80 456.83,478.80" fill="#be581b"/>
<rect x="456.83" y="460.50" width="16.38" height="18.30" fill="url(#g1)"/>
<polygon points="473.21,460.50 478.51,456.70 478.51,475.00 473.21,478.80" fill="#be581b"/>
<polygon points="456.83,460.50 462.13,456.70 478.51,456.70 473.21,460.50" fill="#c96428"/>
<polygon points="357.80,418.30 363.10,414.50 379.90,414.50 379.90,486.00 374.60,489.80 357.80,489.80" fill="#2b4b90"/>
<rect x="357.80" y="418.30" width="16.80" height="71.50" fill="url(#g0)"/>
<polygon points="374.60,418.30 379.90,414.50 379.90,486.00 374.60,489.80" fill="#2b4b90"/>
<polygon points="357.80,418.30 363.10,414.50 379.90,414.50 374.60,418.30" fill="#2f539e"/>
<polygon points="400.05,418.30 405.35,414.50 422.15,414.50 422.15,486.00 416.85,489.80 400.05,489.80" fill="#2b4b90"/>
<rect x="400.05" y="418.30" width="16.80" height="71.50" fill="url(#g0)"/>
<polygon points="416.85,418.30 422.15,414.50 422.15,486.00 416.85,489.80" fill="#2b4b90"/>
<polygon points="400.05,418.30 405.35,414.50 422.15,414.50 416.85,418.30" fill="#2f539e"/>
<polygon points="442.30,418.30 447.60,414.50 464.40,414.50 464.40,486.00 459.10,489.80 442.30,489.80" fill="#2b4b90"/>
<rect x="442.30" y="418.30" width="16.80" height="71.50" fill="url(#g0)"/>
<polygon points="459.10,418.30 464.40,414.50 464.40,486.00 459.10,489.80" fill="#2b4b90"/>
<polygon points="442.30,418.30 447.60,414.50 464.40,414.50 459.10,418.30" fill="#2f539e"/>
<text x="362.08" y="511.00" font-size="10" font-weight="bold" fill="#595959" text-anchor="middle">Present</text>
<text x="362.08" y="525.00" font-size="10" font-weight="bold" fill="#595959" text-anchor="middle">Study</text>
<text x="404.25" y="511.00" font-size="10" font-weight="bold" fill="#595959" text-anchor="middle" textLength="32" lengthAdjust="spacingAndGlyphs">TOPSIS</text>
<text x="446.42" y="511.00" font-size="10" font-weight="bold" fill="#595959" text-anchor="middle">SAW</text>
<text x="487.80" y="491.30" font-size="10.3" font-weight="bold" fill="#595959" textLength="11.4" lengthAdjust="spacingAndGlyphs">A1</text>
<text x="501.50" y="480.30" font-size="10.3" font-weight="bold" fill="#595959" textLength="11.4" lengthAdjust="spacingAndGlyphs">A2</text>
<text x="515.20" y="469.30" font-size="10.3" font-weight="bold" fill="#595959" textLength="11.4" lengthAdjust="spacingAndGlyphs">A3</text>
<text x="528.90" y="458.30" font-size="10.3" font-weight="bold" fill="#595959" textLength="11.4" lengthAdjust="spacingAndGlyphs">A4</text>
<rect x="387.75" y="545.80" width="6.3" height="6.5" fill="#4472c4"/>
<text x="396.55" y="552.60" font-size="10.3" font-weight="bold" fill="#595959" textLength="11.6" lengthAdjust="spacingAndGlyphs">A1</text>
<rect x="417.05" y="545.80" width="6.3" height="6.5" fill="#ed7d31"/>
<text x="425.85" y="552.60" font-size="10.3" font-weight="bold" fill="#595959" textLength="11.6" lengthAdjust="spacingAndGlyphs">A2</text>
<rect x="446.35" y="545.80" width="6.3" height="6.5" fill="#a5a5a5"/>
<text x="455.15" y="552.60" font-size="10.3" font-weight="bold" fill="#595959" textLength="11.6" lengthAdjust="spacingAndGlyphs">A3</text>
<rect x="475.65" y="545.80" width="6.3" height="6.5" fill="#ffc000"/>
<text x="484.45" y="552.60" font-size="10.3" font-weight="bold" fill="#595959" textLength="11.6" lengthAdjust="spacingAndGlyphs">A4</text>
<rect x="628.5" y="305" width="252.0" height="262" fill="#fff" stroke="#e3e3e3" stroke-width="1.6"/>
<text x="754.5" y="331.2" font-size="15" font-weight="bold" fill="#595959" text-anchor="middle" textLength="23.2" lengthAdjust="spacingAndGlyphs">S-5</text>
<text x="754.5" y="352.8" font-size="15" font-weight="bold" fill="#595959" text-anchor="middle" textLength="113" lengthAdjust="spacingAndGlyphs">(rs1=0.8, rs2=1)</text>
<polyline points="655.70,493.40 712.30,449.30 839.60,449.30" fill="none" stroke="#dcdcdc" stroke-width="0.9"/>
<polyline points="655.70,475.15 712.30,431.05 839.60,431.05" fill="none" stroke="#dcdcdc" stroke-width="0.9"/>
<polyline points="655.70,456.90 712.30,412.80 839.60,412.80" fill="none" stroke="#dcdcdc" stroke-width="0.9"/>
<polyline points="655.70,438.65 712.30,394.55 839.60,394.55" fill="none" stroke="#dcdcdc" stroke-width="0.9"/>
<polyline points="655.70,420.40 712.30,376.30 839.60,376.30" fill="none" stroke="#dcdcdc" stroke-width="0.9"/>
<polyline points="655.70,493.40 783.00,493.40 839.60,449.30" fill="none" stroke="#ebebeb" stroke-width="0.9"/>
<polygon points="716.09,420.99 721.39,417.19 737.02,417.19 737.02,452.49 731.72,456.29 716.09,456.29" fill="#c09000"/>
<rect x="716.09" y="420.99" width="15.63" height="35.30" fill="url(#g3)"/>
<polygon points="731.72,420.99 737.02,417.19 737.02,452.49 731.72,456.29" fill="#c09000"/>
<polygon points="716.09,420.99 721.39,417.19 737.02,417.19 731.72,420.99" fill="#cc9e0c"/>
<polygon points="758.29,402.29 763.59,398.49 779.22,398.49 779.22,452.49 773.92,456.29 758.29,456.29" fill="#c09000"/>
<rect x="758.29" y="402.29" width="15.63" height="54.00" fill="url(#g3)"/>
<polygon points="773.92,402.29 779.22,398.49 779.22,452.49 773.92,456.29" fill="#c09000"/>
<polygon points="758.29,402.29 763.59,398.49 779.22,398.49 773.92,402.29" fill="#cc9e0c"/>
<polygon points="800.49,420.79 805.79,416.99 821.42,416.99 821.42,452.49 816.12,456.29 800.49,456.29" fill="#c09000"/>
<rect x="800.49" y="420.79" width="15.63" height="35.50" fill="url(#g3)"/>
<polygon points="816.12,420.79 821.42,416.99 821.42,452.49 816.12,456.29" fill="#c09000"/>
<polygon points="800.49,420.79 805.79,416.99 821.42,416.99 816.12,420.79" fill="#cc9e0c"/>
<polygon points="701.46,448.96 706.76,445.16 722.81,445.16 722.81,463.66 717.51,467.46 701.46,467.46" fill="#797979"/>
<rect x="701.46" y="448.96" width="16.05" height="18.50" fill="url(#g2)"/>
<polygon points="717.51,448.96 722.81,445.16 722.81,463.66 717.51,467.46" fill="#797979"/>
<polygon points="701.46,448.96 706.76,445.16 722.81,445.16 717.51,448.96" fill="#8a8a8a"/>
<polygon points="743.66,448.96 748.96,445.16 765.01,445.16 765.01,463.66 759.72,467.46 743.66,467.46" fill="#797979"/>
<rect x="743.66" y="448.96" width="16.05" height="18.50" fill="url(#g2)"/>
<polygon points="759.72,448.96 765.01,445.16 765.01,463.66 759.72,467.46" fill="#797979"/>
<polygon points="743.66,448.96 748.96,445.16 765.01,445.16 759.72,448.96" fill="#8a8a8a"/>
<polygon points="785.86,449.46 791.16,445.66 807.21,445.66 807.21,463.66 801.91,467.46 785.86,467.46" fill="#797979"/>
<rect x="785.86" y="449.46" width="16.05" height="18.00" fill="url(#g2)"/>
<polygon points="801.91,449.46 807.21,445.66 807.21,463.66 801.91,467.46" fill="#797979"/>
<polygon points="785.86,449.46 791.16,445.66 807.21,445.66 801.91,449.46" fill="#8a8a8a"/>
<polygon points="686.83,424.33 692.13,420.53 708.61,420.53 708.61,474.83 703.31,478.63 686.83,478.63" fill="#be581b"/>
<rect x="686.83" y="424.33" width="16.48" height="54.30" fill="url(#g1)"/>
<polygon points="703.31,424.33 708.61,420.53 708.61,474.83 703.31,478.63" fill="#be581b"/>
<polygon points="686.83,424.33 692.13,420.53 708.61,420.53 703.31,424.33" fill="#c96428"/>
<polygon points="729.03,406.23 734.33,402.43 750.81,402.43 750.81,474.83 745.51,478.63 729.03,478.63" fill="#be581b"/>
<rect x="729.03" y="406.23" width="16.48" height="72.40" fill="url(#g1)"/>
<polygon points="745.51,406.23 750.81,402.43 750.81,474.83 745.51,478.63" fill="#be581b"/>
<polygon points="729.03,406.23 734.33,402.43 750.81,402.43 745.51,406.23" fill="#c96428"/>
<polygon points="771.23,424.33 776.53,420.53 793.01,420.53 793.01,474.83 787.71,478.63 771.23,478.63" fill="#be581b"/>
<rect x="771.23" y="424.33" width="16.48" height="54.30" fill="url(#g1)"/>
<polygon points="787.71,424.33 793.01,420.53 793.01,474.83 787.71,478.63" fill="#be581b"/>
<polygon points="771.23,424.33 776.53,420.53 793.01,420.53 787.71,424.33" fill="#c96428"/>
<polygon points="672.20,416.80 677.50,413.00 694.40,413.00 694.40,486.00 689.10,489.80 672.20,489.80" fill="#2b4b90"/>
<rect x="672.20" y="416.80" width="16.90" height="73.00" fill="url(#g0)"/>
<polygon points="689.10,416.80 694.40,413.00 694.40,486.00 689.10,489.80" fill="#2b4b90"/>
<polygon points="672.20,416.80 677.50,413.00 694.40,413.00 689.10,416.80" fill="#2f539e"/>
<polygon points="714.40,453.30 719.70,449.50 736.60,449.50 736.60,486.00 731.30,489.80 714.40,489.80" fill="#2b4b90"/>
<rect x="714.40" y="453.30" width="16.90" height="36.50" fill="url(#g0)"/>
<polygon points="731.30,453.30 736.60,449.50 736.60,486.00 731.30,489.80" fill="#2b4b90"/>
<polygon points="714.40,453.30 719.70,449.50 736.60,449.50 731.30,453.30" fill="#2f539e"/>
<polygon points="756.60,416.80 761.90,413.00 778.80,413.00 778.80,486.00 773.50,489.80 756.60,489.80" fill="#2b4b90"/>
<rect x="756.60" y="416.80" width="16.90" height="73.00" fill="url(#g0)"/>
<polygon points="773.50,416.80 778.80,413.00 778.80,486.00 773.50,489.80" fill="#2b4b90"/>
<polygon points="756.60,416.80 761.90,413.00 778.80,413.00 773.50,416.80" fill="#2f539e"/>
<text x="675.42" y="511.50" font-size="10" font-weight="bold" fill="#595959" text-anchor="middle">Present</text>
<text x="675.42" y="525.50" font-size="10" font-weight="bold" fill="#595959" text-anchor="middle">Study</text>
<text x="717.85" y="511.50" font-size="10" font-weight="bold" fill="#595959" text-anchor="middle" textLength="32" lengthAdjust="spacingAndGlyphs">TOPSIS</text>
<text x="760.28" y="511.50" font-size="10" font-weight="bold" fill="#595959" text-anchor="middle">SAW</text>
<text x="802.80" y="491.60" font-size="10.3" font-weight="bold" fill="#595959" textLength="11.4" lengthAdjust="spacingAndGlyphs">A1</text>
<text x="816.50" y="480.60" font-size="10.3" font-weight="bold" fill="#595959" textLength="11.4" lengthAdjust="spacingAndGlyphs">A2</text>
<text x="830.20" y="469.60" font-size="10.3" font-weight="bold" fill="#595959" textLength="11.4" lengthAdjust="spacingAndGlyphs">A3</text>
<text x="843.90" y="458.60" font-size="10.3" font-weight="bold" fill="#595959" textLength="11.4" lengthAdjust="spacingAndGlyphs">A4</text>
<rect x="702.00" y="545.80" width="6.3" height="6.5" fill="#4472c4"/>
<text x="710.80" y="552.60" font-size="10.3" font-weight="bold" fill="#595959" textLength="11.6" lengthAdjust="spacingAndGlyphs">A1</text>
<rect x="731.30" y="545.80" width="6.3" height="6.5" fill="#ed7d31"/>
<text x="740.10" y="552.60" font-size="10.3" font-weight="bold" fill="#595959" textLength="11.6" lengthAdjust="spacingAndGlyphs">A2</text>
<rect x="760.60" y="545.80" width="6.3" height="6.5" fill="#a5a5a5"/>
<text x="769.40" y="552.60" font-size="10.3" font-weight="bold" fill="#595959" textLength="11.6" lengthAdjust="spacingAndGlyphs">A3</text>
<rect x="789.90" y="545.80" width="6.3" height="6.5" fill="#ffc000"/>
<text x="798.70" y="552.60" font-size="10.3" font-weight="bold" fill="#595959" textLength="11.6" lengthAdjust="spacingAndGlyphs">A4</text>
<rect x="941.5" y="305" width="252.0" height="261.5" fill="#fff" stroke="#e3e3e3" stroke-width="1.6"/>
<text x="1067.5" y="330.5" font-size="15" font-weight="bold" fill="#595959" text-anchor="middle" textLength="22.7" lengthAdjust="spacingAndGlyphs">S-6</text>
<text x="1067.5" y="352.4" font-size="15" font-weight="bold" fill="#595959" text-anchor="middle" textLength="100.3" lengthAdjust="spacingAndGlyphs">(rs1=1, rs2=1)</text>
<polyline points="967.50,491.60 1025.80,448.40 1152.30,448.40" fill="none" stroke="#dcdcdc" stroke-width="0.9"/>
<polyline points="967.50,473.60 1025.80,430.40 1152.30,430.40" fill="none" stroke="#dcdcdc" stroke-width="0.9"/>
<polyline points="967.50,455.60 1025.80,412.40 1152.30,412.40" fill="none" stroke="#dcdcdc" stroke-width="0.9"/>
<polyline points="967.50,437.60 1025.80,394.40 1152.30,394.40" fill="none" stroke="#dcdcdc" stroke-width="0.9"/>
<polyline points="967.50,419.60 1025.80,376.40 1152.30,376.40" fill="none" stroke="#dcdcdc" stroke-width="0.9"/>
<polyline points="967.50,491.60 1094.00,491.60 1152.30,448.40" fill="none" stroke="#ebebeb" stroke-width="0.9"/>
<polygon points="1113.85,438.30 1119.15,434.50 1134.69,434.50 1134.69,452.10 1129.39,455.90 1113.85,455.90" fill="#c09000"/>
<rect x="1113.85" y="438.30" width="15.54" height="17.60" fill="url(#g3)"/>
<polygon points="1129.39,438.30 1134.69,434.50 1134.69,452.10 1129.39,455.90" fill="#c09000"/>
<polygon points="1113.85,438.30 1119.15,434.50 1134.69,434.50 1129.39,438.30" fill="#cc9e0c"/>
<polygon points="1014.30,413.30 1019.60,409.50 1035.56,409.50 1035.56,463.00 1030.26,466.80 1014.30,466.80" fill="#797979"/>
<rect x="1014.30" y="413.30" width="15.96" height="53.50" fill="url(#g2)"/>
<polygon points="1030.26,413.30 1035.56,409.50 1035.56,463.00 1030.26,466.80" fill="#797979"/>
<polygon points="1014.30,413.30 1019.60,409.50 1035.56,409.50 1030.26,413.30" fill="#8a8a8a"/>
<polygon points="1056.80,413.30 1062.10,409.50 1078.06,409.50 1078.06,463.00 1072.76,466.80 1056.80,466.80" fill="#797979"/>
<rect x="1056.80" y="413.30" width="15.96" height="53.50" fill="url(#g2)"/>
<polygon points="1072.76,413.30 1078.06,409.50 1078.06,463.00 1072.76,466.80" fill="#797979"/>
<polygon points="1056.80,413.30 1062.10,409.50 1078.06,409.50 1072.76,413.30" fill="#8a8a8a"/>
<polygon points="1099.30,413.30 1104.60,409.50 1120.56,409.50 1120.56,463.00 1115.26,466.80 1099.30,466.80" fill="#797979"/>
<rect x="1099.30" y="413.30" width="15.96" height="53.50" fill="url(#g2)"/>
<polygon points="1115.26,413.30 1120.56,409.50 1120.56,463.00 1115.26,466.80" fill="#797979"/>
<polygon points="1099.30,413.30 1104.60,409.50 1120.56,409.50 1115.26,413.30" fill="#8a8a8a"/>
<polygon points="999.75,441.70 1005.05,437.90 1021.43,437.90 1021.43,473.90 1016.13,477.70 999.75,477.70" fill="#be581b"/>
<rect x="999.75" y="441.70" width="16.38" height="36.00" fill="url(#g1)"/>
<polygon points="1016.13,441.70 1021.43,437.90 1021.43,473.90 1016.13,477.70" fill="#be581b"/>
<polygon points="999.75,441.70 1005.05,437.90 1021.43,437.90 1016.13,441.70" fill="#c96428"/>
<polygon points="1042.25,441.70 1047.55,437.90 1063.93,437.90 1063.93,473.90 1058.63,477.70 1042.25,477.70" fill="#be581b"/>
<rect x="1042.25" y="441.70" width="16.38" height="36.00" fill="url(#g1)"/>
<polygon points="1058.63,441.70 1063.93,437.90 1063.93,473.90 1058.63,477.70" fill="#be581b"/>
<polygon points="1042.25,441.70 1047.55,437.90 1063.93,437.90 1058.63,441.70" fill="#c96428"/>
<polygon points="1084.75,441.70 1090.05,437.90 1106.43,437.90 1106.43,473.90 1101.13,477.70 1084.75,477.70" fill="#be581b"/>
<rect x="1084.75" y="441.70" width="16.38" height="36.00" fill="url(#g1)"/>
<polygon points="1101.13,441.70 1106.43,437.90 1106.43,473.90 1101.13,477.70" fill="#be581b"/>
<polygon points="1084.75,441.70 1090.05,437.90 1106.43,437.90 1101.13,441.70" fill="#c96428"/>
<polygon points="985.20,416.50 990.50,412.70 1007.30,412.70 1007.30,484.80 1002.00,488.60 985.20,488.60" fill="#2b4b90"/>
<rect x="985.20" y="416.50" width="16.80" height="72.10" fill="url(#g0)"/>
<polygon points="1002.00,416.50 1007.30,412.70 1007.30,484.80 1002.00,488.60" fill="#2b4b90"/>
<polygon points="985.20,416.50 990.50,412.70 1007.30,412.70 1002.00,416.50" fill="#2f539e"/>
<polygon points="1027.70,416.50 1033.00,412.70 1049.80,412.70 1049.80,484.80 1044.50,488.60 1027.70,488.60" fill="#2b4b90"/>
<rect x="1027.70" y="416.50" width="16.80" height="72.10" fill="url(#g0)"/>
<polygon points="1044.50,416.50 1049.80,412.70 1049.80,484.80 1044.50,488.60" fill="#2b4b90"/>
<polygon points="1027.70,416.50 1033.00,412.70 1049.80,412.70 1044.50,416.50" fill="#2f539e"/>
<polygon points="1070.20,416.50 1075.50,412.70 1092.30,412.70 1092.30,484.80 1087.00,488.60 1070.20,488.60" fill="#2b4b90"/>
<rect x="1070.20" y="416.50" width="16.80" height="72.10" fill="url(#g0)"/>
<polygon points="1087.00,416.50 1092.30,412.70 1092.30,484.80 1087.00,488.60" fill="#2b4b90"/>
<polygon points="1070.20,416.50 1075.50,412.70 1092.30,412.70 1087.00,416.50" fill="#2f539e"/>
<text x="988.58" y="510.00" font-size="10" font-weight="bold" fill="#595959" text-anchor="middle">Present</text>
<text x="988.58" y="524.00" font-size="10" font-weight="bold" fill="#595959" text-anchor="middle">Study</text>
<text x="1030.75" y="510.00" font-size="10" font-weight="bold" fill="#595959" text-anchor="middle" textLength="32" lengthAdjust="spacingAndGlyphs">TOPSIS</text>
<text x="1072.92" y="510.00" font-size="10" font-weight="bold" fill="#595959" text-anchor="middle">SAW</text>
<text x="1115.30" y="490.90" font-size="10.3" font-weight="bold" fill="#595959" textLength="11.4" lengthAdjust="spacingAndGlyphs">A1</text>
<text x="1129.10" y="479.90" font-size="10.3" font-weight="bold" fill="#595959" textLength="11.4" lengthAdjust="spacingAndGlyphs">A2</text>
<text x="1142.90" y="468.90" font-size="10.3" font-weight="bold" fill="#595959" textLength="11.4" lengthAdjust="spacingAndGlyphs">A3</text>
<text x="1156.70" y="457.90" font-size="10.3" font-weight="bold" fill="#595959" textLength="11.4" lengthAdjust="spacingAndGlyphs">A4</text>
<rect x="1015.00" y="545.30" width="6.3" height="6.5" fill="#4472c4"/>
<text x="1023.80" y="552.10" font-size="10.3" font-weight="bold" fill="#595959" textLength="11.6" lengthAdjust="spacingAndGlyphs">A1</text>
<rect x="1044.30" y="545.30" width="6.3" height="6.5" fill="#ed7d31"/>
<text x="1053.10" y="552.10" font-size="10.3" font-weight="bold" fill="#595959" textLength="11.6" lengthAdjust="spacingAndGlyphs">A2</text>
<rect x="1073.60" y="545.30" width="6.3" height="6.5" fill="#a5a5a5"/>
<text x="1082.40" y="552.10" font-size="10.3" font-weight="bold" fill="#595959" textLength="11.6" lengthAdjust="spacingAndGlyphs">A3</text>
<rect x="1102.90" y="545.30" width="6.3" height="6.5" fill="#ffc000"/>
<text x="1111.70" y="552.10" font-size="10.3" font-weight="bold" fill="#595959" textLength="11.6" lengthAdjust="spacingAndGlyphs">A4</text>
<rect x="2.5" y="602" width="250.0" height="256" fill="#fff" stroke="#e3e3e3" stroke-width="1.6"/>
<text x="127.5" y="627.2" font-size="15" font-weight="bold" fill="#595959" text-anchor="middle" textLength="22.2" lengthAdjust="spacingAndGlyphs">S-7</text>
<text x="127.5" y="649.1" font-size="15" font-weight="bold" fill="#595959" text-anchor="middle" textLength="100.3" lengthAdjust="spacingAndGlyphs">(rs1=1, rs2=1)</text>
<polyline points="29.80,783.90 86.40,741.40 209.90,741.40" fill="none" stroke="#dcdcdc" stroke-width="0.9"/>
<polyline points="29.80,766.85 86.40,724.35 209.90,724.35" fill="none" stroke="#dcdcdc" stroke-width="0.9"/>
<polyline points="29.80,749.80 86.40,707.30 209.90,707.30" fill="none" stroke="#dcdcdc" stroke-width="0.9"/>
<polyline points="29.80,732.75 86.40,690.25 209.90,690.25" fill="none" stroke="#dcdcdc" stroke-width="0.9"/>
<polyline points="29.80,715.70 86.40,673.20 209.90,673.20" fill="none" stroke="#dcdcdc" stroke-width="0.9"/>
<polyline points="29.80,783.90 153.30,783.90 209.90,741.40" fill="none" stroke="#ebebeb" stroke-width="0.9"/>
<polygon points="89.21,681.00 94.51,677.20 109.87,677.20 109.87,744.80 104.57,748.60 89.21,748.60" fill="#c09000"/>
<rect x="89.21" y="681.00" width="15.36" height="67.60" fill="url(#g3)"/>
<polygon points="104.57,681.00 109.87,677.20 109.87,744.80 104.57,748.60" fill="#c09000"/>
<polygon points="89.21,681.00 94.51,677.20 109.87,677.20 104.57,681.00" fill="#cc9e0c"/>
<polygon points="130.51,681.00 135.81,677.20 151.16,677.20 151.16,744.80 145.86,748.60 130.51,748.60" fill="#c09000"/>
<rect x="130.51" y="681.00" width="15.36" height="67.60" fill="url(#g3)"/>
<polygon points="145.86,681.00 151.16,677.20 151.16,744.80 145.86,748.60" fill="#c09000"/>
<polygon points="130.51,681.00 135.81,677.20 151.16,677.20 145.86,681.00" fill="#cc9e0c"/>
<polygon points="171.81,681.00 177.11,677.20 192.47,677.20 192.47,744.80 187.16,748.60 171.81,748.60" fill="#c09000"/>
<rect x="171.81" y="681.00" width="15.36" height="67.60" fill="url(#g3)"/>
<polygon points="187.16,681.00 192.47,677.20 192.47,744.80 187.16,748.60" fill="#c09000"/>
<polygon points="171.81,681.00 177.11,677.20 192.47,677.20 187.16,681.00" fill="#cc9e0c"/>
<polygon points="75.04,726.20 80.34,722.40 96.11,722.40 96.11,755.40 90.81,759.20 75.04,759.20" fill="#797979"/>
<rect x="75.04" y="726.20" width="15.77" height="33.00" fill="url(#g2)"/>
<polygon points="90.81,726.20 96.11,722.40 96.11,755.40 90.81,759.20" fill="#797979"/>
<polygon points="75.04,726.20 80.34,722.40 96.11,722.40 90.81,726.20" fill="#8a8a8a"/>
<polygon points="116.34,726.20 121.64,722.40 137.41,722.40 137.41,755.40 132.11,759.20 116.34,759.20" fill="#797979"/>
<rect x="116.34" y="726.20" width="15.77" height="33.00" fill="url(#g2)"/>
<polygon points="132.11,726.20 137.41,722.40 137.41,755.40 132.11,759.20" fill="#797979"/>
<polygon points="116.34,726.20 121.64,722.40 137.41,722.40 132.11,726.20" fill="#8a8a8a"/>
<polygon points="157.64,726.20 162.94,722.40 178.71,722.40 178.71,755.40 173.41,759.20 157.64,759.20" fill="#797979"/>
<rect x="157.64" y="726.20" width="15.77" height="33.00" fill="url(#g2)"/>
<polygon points="173.41,726.20 178.71,722.40 178.71,755.40 173.41,759.20" fill="#797979"/>
<polygon points="157.64,726.20 162.94,722.40 178.71,722.40 173.41,726.20" fill="#8a8a8a"/>
<polygon points="60.87,753.30 66.17,749.50 82.36,749.50 82.36,766.00 77.06,769.80 60.87,769.80" fill="#be581b"/>
<rect x="60.87" y="753.30" width="16.19" height="16.50" fill="url(#g1)"/>
<polygon points="77.06,753.30 82.36,749.50 82.36,766.00 77.06,769.80" fill="#be581b"/>
<polygon points="60.87,753.30 66.17,749.50 82.36,749.50 77.06,753.30" fill="#c96428"/>
<polygon points="102.17,753.30 107.47,749.50 123.66,749.50 123.66,766.00 118.36,769.80 102.17,769.80" fill="#be581b"/>
<rect x="102.17" y="753.30" width="16.19" height="16.50" fill="url(#g1)"/>
<polygon points="118.36,753.30 123.66,749.50 123.66,766.00 118.36,769.80" fill="#be581b"/>
<polygon points="102.17,753.30 107.47,749.50 123.66,749.50 118.36,753.30" fill="#c96428"/>
<polygon points="143.47,753.30 148.77,749.50 164.96,749.50 164.96,766.00 159.66,769.80 143.47,769.80" fill="#be581b"/>
<rect x="143.47" y="753.30" width="16.19" height="16.50" fill="url(#g1)"/>
<polygon points="159.66,753.30 164.96,749.50 164.96,766.00 159.66,769.80" fill="#be581b"/>
<polygon points="143.47,753.30 148.77,749.50 164.96,749.50 159.66,753.30" fill="#c96428"/>
<polygon points="46.70,729.80 52.00,726.00 68.60,726.00 68.60,776.60 63.30,780.40 46.70,780.40" fill="#2b4b90"/>
<rect x="46.70" y="729.80" width="16.60" height="50.60" fill="url(#g0)"/>
<polygon points="63.30,729.80 68.60,726.00 68.60,776.60 63.30,780.40" fill="#2b4b90"/>
<polygon points="46.70,729.80 52.00,726.00 68.60,726.00 63.30,729.80" fill="#2f539e"/>
<polygon points="88.00,729.80 93.30,726.00 109.90,726.00 109.90,776.60 104.60,780.40 88.00,780.40" fill="#2b4b90"/>
<rect x="88.00" y="729.80" width="16.60" height="50.60" fill="url(#g0)"/>
<polygon points="104.60,729.80 109.90,726.00 109.90,776.60 104.60,780.40" fill="#2b4b90"/>
<polygon points="88.00,729.80 93.30,726.00 109.90,726.00 104.60,729.80" fill="#2f539e"/>
<polygon points="129.30,729.80 134.60,726.00 151.20,726.00 151.20,776.60 145.90,780.40 129.30,780.40" fill="#2b4b90"/>
<rect x="129.30" y="729.80" width="16.60" height="50.60" fill="url(#g0)"/>
<polygon points="145.90,729.80 151.20,726.00 151.20,776.60 145.90,780.40" fill="#2b4b90"/>
<polygon points="129.30,729.80 134.60,726.00 151.20,726.00 145.90,729.80" fill="#2f539e"/>
<text x="50.38" y="801.40" font-size="10" font-weight="bold" fill="#595959" text-anchor="middle">Present</text>
<text x="50.38" y="815.40" font-size="10" font-weight="bold" fill="#595959" text-anchor="middle">Study</text>
<text x="91.55" y="801.40" font-size="10" font-weight="bold" fill="#595959" text-anchor="middle" textLength="32" lengthAdjust="spacingAndGlyphs">TOPSIS</text>
<text x="132.72" y="801.40" font-size="10" font-weight="bold" fill="#595959" text-anchor="middle">SAW</text>
<text x="174.60" y="782.40" font-size="10.3" font-weight="bold" fill="#595959" textLength="11.4" lengthAdjust="spacingAndGlyphs">A1</text>
<text x="187.93" y="771.63" font-size="10.3" font-weight="bold" fill="#595959" textLength="11.4" lengthAdjust="spacingAndGlyphs">A2</text>
<text x="201.26" y="760.86" font-size="10.3" font-weight="bold" fill="#595959" textLength="11.4" lengthAdjust="spacingAndGlyphs">A3</text>
<text x="214.59" y="750.09" font-size="10.3" font-weight="bold" fill="#595959" textLength="11.4" lengthAdjust="spacingAndGlyphs">A4</text>
<rect x="75.00" y="836.80" width="6.3" height="6.5" fill="#4472c4"/>
<text x="83.80" y="843.60" font-size="10.3" font-weight="bold" fill="#595959" textLength="11.6" lengthAdjust="spacingAndGlyphs">A1</text>
<rect x="104.30" y="836.80" width="6.3" height="6.5" fill="#ed7d31"/>
<text x="113.10" y="843.60" font-size="10.3" font-weight="bold" fill="#595959" textLength="11.6" lengthAdjust="spacingAndGlyphs">A2</text>
<rect x="133.60" y="836.80" width="6.3" height="6.5" fill="#a5a5a5"/>
<text x="142.40" y="843.60" font-size="10.3" font-weight="bold" fill="#595959" textLength="11.6" lengthAdjust="spacingAndGlyphs">A3</text>
<rect x="162.90" y="836.80" width="6.3" height="6.5" fill="#ffc000"/>
<text x="171.70" y="843.60" font-size="10.3" font-weight="bold" fill="#595959" textLength="11.6" lengthAdjust="spacingAndGlyphs">A4</text>
<rect x="316.5" y="604.5" width="251.20000000000005" height="257.5" fill="#fff" stroke="#e3e3e3" stroke-width="1.6"/>
<text x="442.1" y="630.3" font-size="15" font-weight="bold" fill="#595959" text-anchor="middle" textLength="22.6" lengthAdjust="spacingAndGlyphs">S-8</text>
<text x="442.1" y="651.1" font-size="15" font-weight="bold" fill="#595959" text-anchor="middle" textLength="100.1" lengthAdjust="spacingAndGlyphs">(rs1=1, rs2=1)</text>
<polyline points="344.30,788.90 401.10,745.30 526.10,745.30" fill="none" stroke="#dcdcdc" stroke-width="0.9"/>
<polyline points="344.30,771.50 401.10,727.90 526.10,727.90" fill="none" stroke="#dcdcdc" stroke-width="0.9"/>
<polyline points="344.30,754.10 401.10,710.50 526.10,710.50" fill="none" stroke="#dcdcdc" stroke-width="0.9"/>
<polyline points="344.30,736.70 401.10,693.10 526.10,693.10" fill="none" stroke="#dcdcdc" stroke-width="0.9"/>
<polyline points="344.30,719.30 401.10,675.70 526.10,675.70" fill="none" stroke="#dcdcdc" stroke-width="0.9"/>
<polyline points="344.30,788.90 469.30,788.90 526.10,745.30" fill="none" stroke="#ebebeb" stroke-width="0.9"/>
<polygon points="404.89,700.30 410.19,696.50 425.82,696.50 425.82,748.30 420.52,752.10 404.89,752.10" fill="#c09000"/>
<rect x="404.89" y="700.30" width="15.63" height="51.80" fill="url(#g3)"/>
<polygon points="420.52,700.30 425.82,696.50 425.82,748.30 420.52,752.10" fill="#c09000"/>
<polygon points="404.89,700.30 410.19,696.50 425.82,696.50 420.52,700.30" fill="#cc9e0c"/>
<polygon points="446.59,700.30 451.89,696.50 467.52,696.50 467.52,748.30 462.22,752.10 446.59,752.10" fill="#c09000"/>
<rect x="446.59" y="700.30" width="15.63" height="51.80" fill="url(#g3)"/>
<polygon points="462.22,700.30 467.52,696.50 467.52,748.30 462.22,752.10" fill="#c09000"/>
<polygon points="446.59,700.30 451.89,696.50 467.52,696.50 462.22,700.30" fill="#cc9e0c"/>
<polygon points="488.29,700.30 493.59,696.50 509.22,696.50 509.22,748.30 503.92,752.10 488.29,752.10" fill="#c09000"/>
<rect x="488.29" y="700.30" width="15.63" height="51.80" fill="url(#g3)"/>
<polygon points="503.92,700.30 509.22,696.50 509.22,748.30 503.92,752.10" fill="#c09000"/>
<polygon points="488.29,700.30 493.59,696.50 509.22,696.50 503.92,700.30" fill="#cc9e0c"/>
<polygon points="390.36,745.60 395.66,741.80 411.72,741.80 411.72,759.30 406.42,763.10 390.36,763.10" fill="#797979"/>
<rect x="390.36" y="745.60" width="16.05" height="17.50" fill="url(#g2)"/>
<polygon points="406.42,745.60 411.72,741.80 411.72,759.30 406.42,763.10" fill="#797979"/>
<polygon points="390.36,745.60 395.66,741.80 411.72,741.80 406.42,745.60" fill="#8a8a8a"/>
<polygon points="432.06,745.60 437.36,741.80 453.42,741.80 453.42,759.30 448.12,763.10 432.06,763.10" fill="#797979"/>
<rect x="432.06" y="745.60" width="16.05" height="17.50" fill="url(#g2)"/>
<polygon points="448.12,745.60 453.42,741.80 453.42,759.30 448.12,763.10" fill="#797979"/>
<polygon points="432.06,745.60 437.36,741.80 453.42,741.80 448.12,745.60" fill="#8a8a8a"/>
<polygon points="473.76,745.60 479.06,741.80 495.12,741.80 495.12,759.30 489.82,763.10 473.76,763.10" fill="#797979"/>
<rect x="473.76" y="745.60" width="16.05" height="17.50" fill="url(#g2)"/>
<polygon points="489.82,745.60 495.12,741.80 495.12,759.30 489.82,763.10" fill="#797979"/>
<polygon points="473.76,745.60 479.06,741.80 495.12,741.80 489.82,745.60" fill="#8a8a8a"/>
<polygon points="375.83,738.90 381.13,735.10 397.61,735.10 397.61,770.30 392.31,774.10 375.83,774.10" fill="#be581b"/>
<rect x="375.83" y="738.90" width="16.48" height="35.20" fill="url(#g1)"/>
<polygon points="392.31,738.90 397.61,735.10 397.61,770.30 392.31,774.10" fill="#be581b"/>
<polygon points="375.83,738.90 381.13,735.10 397.61,735.10 392.31,738.90" fill="#c96428"/>
<polygon points="417.53,738.90 422.83,735.10 439.31,735.10 439.31,770.30 434.01,774.10 417.53,774.10" fill="#be581b"/>
<rect x="417.53" y="738.90" width="16.48" height="35.20" fill="url(#g1)"/>
<polygon points="434.01,738.90 439.31,735.10 439.31,770.30 434.01,774.10" fill="#be581b"/>
<polygon points="417.53,738.90 422.83,735.10 439.31,735.10 434.01,738.90" fill="#c96428"/>
<polygon points="459.23,738.90 464.53,735.10 481.01,735.10 481.01,770.30 475.71,774.10 459.23,774.10" fill="#be581b"/>
<rect x="459.23" y="738.90" width="16.48" height="35.20" fill="url(#g1)"/>
<polygon points="475.71,738.90 481.01,735.10 481.01,770.30 475.71,774.10" fill="#be581b"/>
<polygon points="459.23,738.90 464.53,735.10 481.01,735.10 475.71,738.90" fill="#c96428"/>
<polygon points="361.30,715.10 366.60,711.30 383.50,711.30 383.50,781.30 378.20,785.10 361.30,785.10" fill="#2b4b90"/>
<rect x="361.30" y="715.10" width="16.90" height="70.00" fill="url(#g0)"/>
<polygon points="378.20,715.10 383.50,711.30 383.50,781.30 378.20,785.10" fill="#2b4b90"/>
<polygon points="361.30,715.10 366.60,711.30 383.50,711.30 378.20,715.10" fill="#2f539e"/>
<polygon points="403.00,715.10 408.30,711.30 425.20,711.30 425.20,781.30 419.90,785.10 403.00,785.10" fill="#2b4b90"/>
<rect x="403.00" y="715.10" width="16.90" height="70.00" fill="url(#g0)"/>
<polygon points="419.90,715.10 425.20,711.30 425.20,781.30 419.90,785.10" fill="#2b4b90"/>
<polygon points="403.00,715.10 408.30,711.30 425.20,711.30 419.90,715.10" fill="#2f539e"/>
<polygon points="444.70,715.10 450.00,711.30 466.90,711.30 466.90,781.30 461.60,785.10 444.70,785.10" fill="#2b4b90"/>
<rect x="444.70" y="715.10" width="16.90" height="70.00" fill="url(#g0)"/>
<polygon points="461.60,715.10 466.90,711.30 466.90,781.30 461.60,785.10" fill="#2b4b90"/>
<polygon points="444.70,715.10 450.00,711.30 466.90,711.30 461.60,715.10" fill="#2f539e"/>
<text x="365.13" y="806.70" font-size="10" font-weight="bold" fill="#595959" text-anchor="middle">Present</text>
<text x="365.13" y="820.70" font-size="10" font-weight="bold" fill="#595959" text-anchor="middle">Study</text>
<text x="406.80" y="806.70" font-size="10" font-weight="bold" fill="#595959" text-anchor="middle" textLength="32" lengthAdjust="spacingAndGlyphs">TOPSIS</text>
<text x="448.47" y="806.70" font-size="10" font-weight="bold" fill="#595959" text-anchor="middle">SAW</text>
<text x="489.80" y="785.90" font-size="10.3" font-weight="bold" fill="#595959" textLength="11.4" lengthAdjust="spacingAndGlyphs">A1</text>
<text x="503.30" y="775.10" font-size="10.3" font-weight="bold" fill="#595959" textLength="11.4" lengthAdjust="spacingAndGlyphs">A2</text>
<text x="516.80" y="764.30" font-size="10.3" font-weight="bold" fill="#595959" textLength="11.4" lengthAdjust="spacingAndGlyphs">A3</text>
<text x="530.30" y="753.50" font-size="10.3" font-weight="bold" fill="#595959" textLength="11.4" lengthAdjust="spacingAndGlyphs">A4</text>
<rect x="389.60" y="840.80" width="6.3" height="6.5" fill="#4472c4"/>
<text x="398.40" y="847.60" font-size="10.3" font-weight="bold" fill="#595959" textLength="11.6" lengthAdjust="spacingAndGlyphs">A1</text>
<rect x="418.90" y="840.80" width="6.3" height="6.5" fill="#ed7d31"/>
<text x="427.70" y="847.60" font-size="10.3" font-weight="bold" fill="#595959" textLength="11.6" lengthAdjust="spacingAndGlyphs">A2</text>
<rect x="448.20" y="840.80" width="6.3" height="6.5" fill="#a5a5a5"/>
<text x="457.00" y="847.60" font-size="10.3" font-weight="bold" fill="#595959" textLength="11.6" lengthAdjust="spacingAndGlyphs">A3</text>
<rect x="477.50" y="840.80" width="6.3" height="6.5" fill="#ffc000"/>
<text x="486.30" y="847.60" font-size="10.3" font-weight="bold" fill="#595959" textLength="11.6" lengthAdjust="spacingAndGlyphs">A4</text>
<rect x="628.5" y="602" width="254.5" height="258" fill="#fff" stroke="#e3e3e3" stroke-width="1.6"/>
<text x="755.75" y="627.2" font-size="15" font-weight="bold" fill="#595959" text-anchor="middle" textLength="22.6" lengthAdjust="spacingAndGlyphs">S-9</text>
<text x="755.75" y="649.4" font-size="15" font-weight="bold" fill="#595959" text-anchor="middle" textLength="99.8" lengthAdjust="spacingAndGlyphs">(rs1=1, rs2=1)</text>
<polyline points="657.00,786.90 714.40,742.90 840.90,742.90" fill="none" stroke="#dcdcdc" stroke-width="0.9"/>
<polyline points="657.00,769.55 714.40,725.55 840.90,725.55" fill="none" stroke="#dcdcdc" stroke-width="0.9"/>
<polyline points="657.00,752.20 714.40,708.20 840.90,708.20" fill="none" stroke="#dcdcdc" stroke-width="0.9"/>
<polyline points="657.00,734.85 714.40,690.85 840.90,690.85" fill="none" stroke="#dcdcdc" stroke-width="0.9"/>
<polyline points="657.00,717.50 714.40,673.50 840.90,673.50" fill="none" stroke="#dcdcdc" stroke-width="0.9"/>
<polyline points="657.00,786.90 783.50,786.90 840.90,742.90" fill="none" stroke="#ebebeb" stroke-width="0.9"/>
<polygon points="717.89,680.70 723.19,676.90 738.54,676.90 738.54,746.30 733.25,750.10 717.89,750.10" fill="#c09000"/>
<rect x="717.89" y="680.70" width="15.36" height="69.40" fill="url(#g3)"/>
<polygon points="733.25,680.70 738.54,676.90 738.54,746.30 733.25,750.10" fill="#c09000"/>
<polygon points="717.89,680.70 723.19,676.90 738.54,676.90 733.25,680.70" fill="#cc9e0c"/>
<polygon points="759.89,680.70 765.19,676.90 780.54,676.90 780.54,746.30 775.25,750.10 759.89,750.10" fill="#c09000"/>
<rect x="759.89" y="680.70" width="15.36" height="69.40" fill="url(#g3)"/>
<polygon points="775.25,680.70 780.54,676.90 780.54,746.30 775.25,750.10" fill="#c09000"/>
<polygon points="759.89,680.70 765.19,676.90 780.54,676.90 775.25,680.70" fill="#cc9e0c"/>
<polygon points="801.89,680.70 807.19,676.90 822.54,676.90 822.54,746.30 817.25,750.10 801.89,750.10" fill="#c09000"/>
<rect x="801.89" y="680.70" width="15.36" height="69.40" fill="url(#g3)"/>
<polygon points="817.25,680.70 822.54,676.90 822.54,746.30 817.25,750.10" fill="#c09000"/>
<polygon points="801.89,680.70 807.19,676.90 822.54,676.90 817.25,680.70" fill="#cc9e0c"/>
<polygon points="703.36,727.10 708.66,723.30 724.43,723.30 724.43,757.40 719.13,761.20 703.36,761.20" fill="#797979"/>
<rect x="703.36" y="727.10" width="15.77" height="34.10" fill="url(#g2)"/>
<polygon points="719.13,727.10 724.43,723.30 724.43,757.40 719.13,761.20" fill="#797979"/>
<polygon points="703.36,727.10 708.66,723.30 724.43,723.30 719.13,727.10" fill="#8a8a8a"/>
<polygon points="745.36,727.10 750.66,723.30 766.43,723.30 766.43,757.40 761.13,761.20 745.36,761.20" fill="#797979"/>
<rect x="745.36" y="727.10" width="15.77" height="34.10" fill="url(#g2)"/>
<polygon points="761.13,727.10 766.43,723.30 766.43,757.40 761.13,761.20" fill="#797979"/>
<polygon points="745.36,727.10 750.66,723.30 766.43,723.30 761.13,727.10" fill="#8a8a8a"/>
<polygon points="787.36,727.10 792.66,723.30 808.43,723.30 808.43,757.40 803.13,761.20 787.36,761.20" fill="#797979"/>
<rect x="787.36" y="727.10" width="15.77" height="34.10" fill="url(#g2)"/>
<polygon points="803.13,727.10 808.43,723.30 808.43,757.40 803.13,761.20" fill="#797979"/>
<polygon points="787.36,727.10 792.66,723.30 808.43,723.30 803.13,727.10" fill="#8a8a8a"/>
<polygon points="688.83,754.90 694.13,751.10 710.31,751.10 710.31,768.50 705.01,772.30 688.83,772.30" fill="#be581b"/>
<rect x="688.83" y="754.90" width="16.19" height="17.40" fill="url(#g1)"/>
<polygon points="705.01,754.90 710.31,751.10 710.31,768.50 705.01,772.30" fill="#be581b"/>
<polygon points="688.83,754.90 694.13,751.10 710.31,751.10 705.01,754.90" fill="#c96428"/>
<polygon points="730.83,754.90 736.13,751.10 752.31,751.10 752.31,768.50 747.01,772.30 730.83,772.30" fill="#be581b"/>
<rect x="730.83" y="754.90" width="16.19" height="17.40" fill="url(#g1)"/>
<polygon points="747.01,754.90 752.31,751.10 752.31,768.50 747.01,772.30" fill="#be581b"/>
<polygon points="730.83,754.90 736.13,751.10 752.31,751.10 747.01,754.90" fill="#c96428"/>
<polygon points="772.83,754.90 778.13,751.10 794.31,751.10 794.31,768.50 789.01,772.30 772.83,772.30" fill="#be581b"/>
<rect x="772.83" y="754.90" width="16.19" height="17.40" fill="url(#g1)"/>
<polygon points="789.01,754.90 794.31,751.10 794.31,768.50 789.01,772.30" fill="#be581b"/>
<polygon points="772.83,754.90 778.13,751.10 794.31,751.10 789.01,754.90" fill="#c96428"/>
<polygon points="674.30,731.30 679.60,727.50 696.20,727.50 696.20,779.60 690.90,783.40 674.30,783.40" fill="#2b4b90"/>
<rect x="674.30" y="731.30" width="16.60" height="52.10" fill="url(#g0)"/>
<polygon points="690.90,731.30 696.20,727.50 696.20,779.60 690.90,783.40" fill="#2b4b90"/>
<polygon points="674.30,731.30 679.60,727.50 696.20,727.50 690.90,731.30" fill="#2f539e"/>
<polygon points="716.30,731.30 721.60,727.50 738.20,727.50 738.20,779.60 732.90,783.40 716.30,783.40" fill="#2b4b90"/>
<rect x="716.30" y="731.30" width="16.60" height="52.10" fill="url(#g0)"/>
<polygon points="732.90,731.30 738.20,727.50 738.20,779.60 732.90,783.40" fill="#2b4b90"/>
<polygon points="716.30,731.30 721.60,727.50 738.20,727.50 732.90,731.30" fill="#2f539e"/>
<polygon points="758.30,731.30 763.60,727.50 780.20,727.50 780.20,779.60 774.90,783.40 758.30,783.40" fill="#2b4b90"/>
<rect x="758.30" y="731.30" width="16.60" height="52.10" fill="url(#g0)"/>
<polygon points="774.90,731.30 780.20,727.50 780.20,779.60 774.90,783.40" fill="#2b4b90"/>
<polygon points="758.30,731.30 763.60,727.50 780.20,727.50 774.90,731.30" fill="#2f539e"/>
<text x="677.38" y="804.30" font-size="10" font-weight="bold" fill="#595959" text-anchor="middle">Present</text>
<text x="677.38" y="818.30" font-size="10" font-weight="bold" fill="#595959" text-anchor="middle">Study</text>
<text x="719.55" y="804.30" font-size="10" font-weight="bold" fill="#595959" text-anchor="middle" textLength="32" lengthAdjust="spacingAndGlyphs">TOPSIS</text>
<text x="761.72" y="804.30" font-size="10" font-weight="bold" fill="#595959" text-anchor="middle">SAW</text>
<text x="803.80" y="784.30" font-size="10.3" font-weight="bold" fill="#595959" textLength="11.4" lengthAdjust="spacingAndGlyphs">A1</text>
<text x="817.50" y="773.40" font-size="10.3" font-weight="bold" fill="#595959" textLength="11.4" lengthAdjust="spacingAndGlyphs">A2</text>
<text x="831.20" y="762.50" font-size="10.3" font-weight="bold" fill="#595959" textLength="11.4" lengthAdjust="spacingAndGlyphs">A3</text>
<text x="844.90" y="751.60" font-size="10.3" font-weight="bold" fill="#595959" textLength="11.4" lengthAdjust="spacingAndGlyphs">A4</text>
<rect x="703.25" y="838.80" width="6.3" height="6.5" fill="#4472c4"/>
<text x="712.05" y="845.60" font-size="10.3" font-weight="bold" fill="#595959" textLength="11.6" lengthAdjust="spacingAndGlyphs">A1</text>
<rect x="732.55" y="838.80" width="6.3" height="6.5" fill="#ed7d31"/>
<text x="741.35" y="845.60" font-size="10.3" font-weight="bold" fill="#595959" textLength="11.6" lengthAdjust="spacingAndGlyphs">A2</text>
<rect x="761.85" y="838.80" width="6.3" height="6.5" fill="#a5a5a5"/>
<text x="770.65" y="845.60" font-size="10.3" font-weight="bold" fill="#595959" textLength="11.6" lengthAdjust="spacingAndGlyphs">A3</text>
<rect x="791.15" y="838.80" width="6.3" height="6.5" fill="#ffc000"/>
<text x="799.95" y="845.60" font-size="10.3" font-weight="bold" fill="#595959" textLength="11.6" lengthAdjust="spacingAndGlyphs">A4</text>
</svg>
</body></html>
